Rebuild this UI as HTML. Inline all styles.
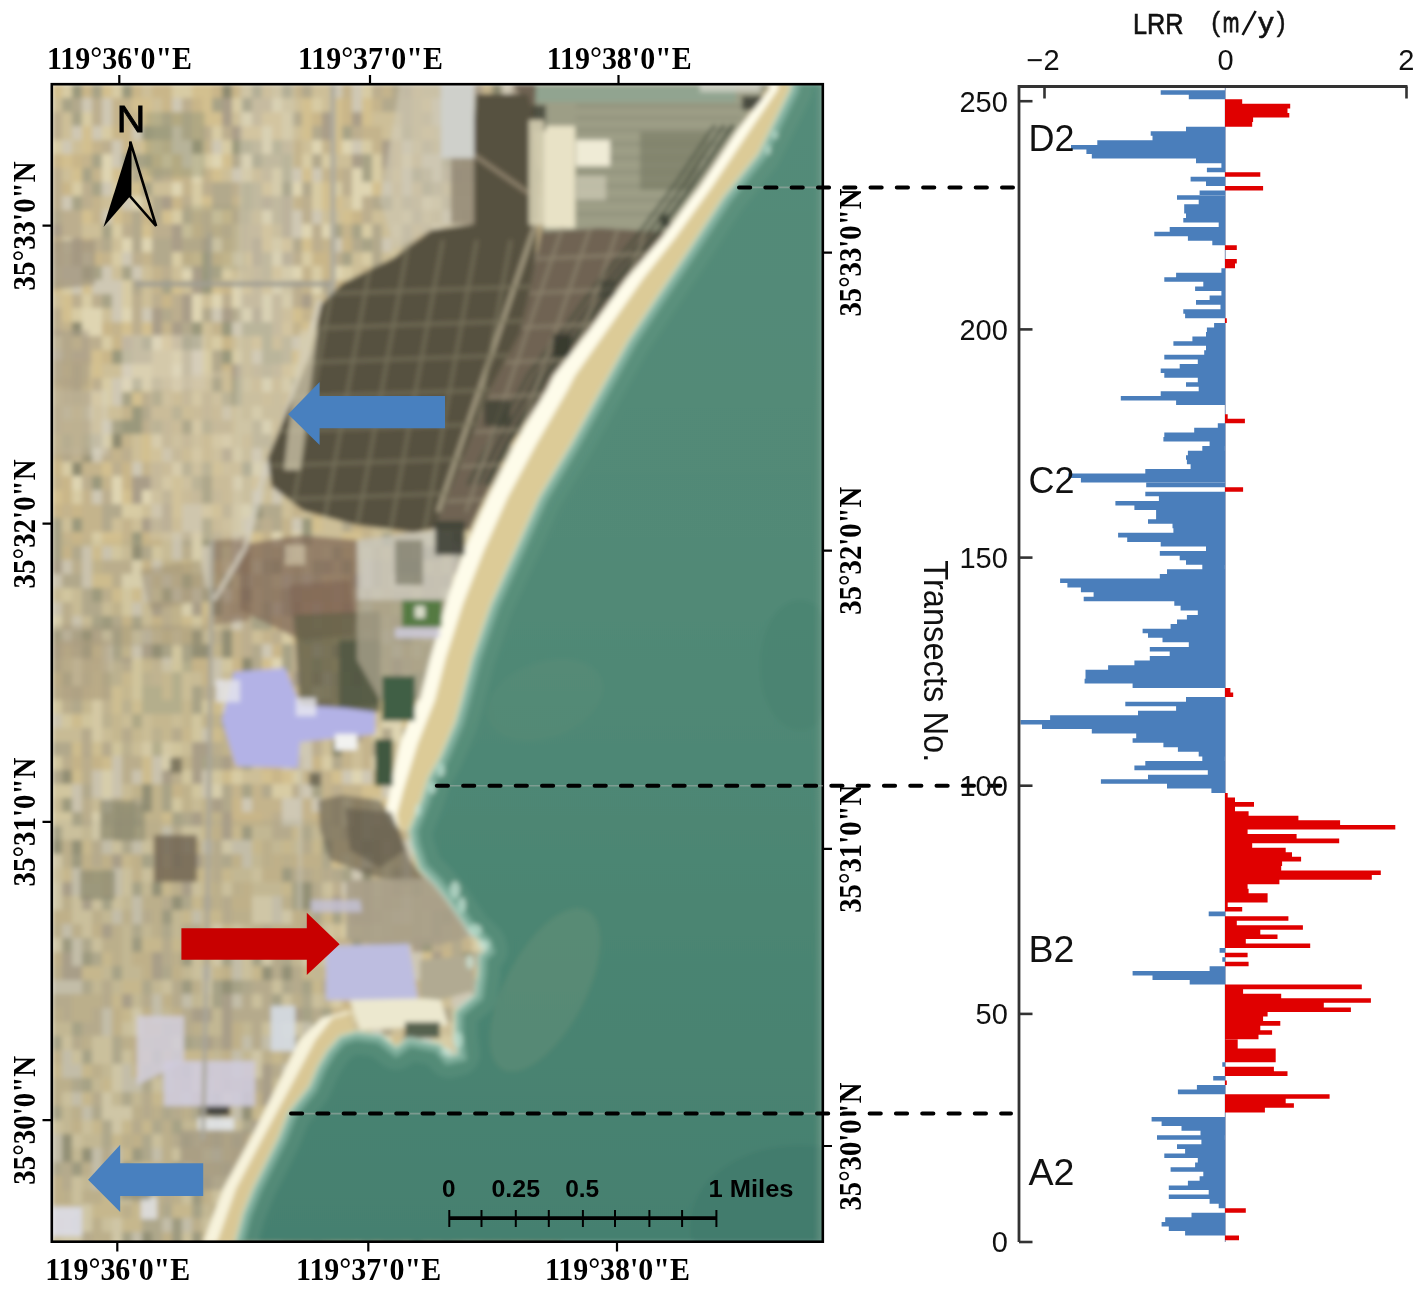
<!DOCTYPE html>
<html><head><meta charset="utf-8"><style>html,body{margin:0;padding:0;background:#fff;width:1417px;height:1292px;overflow:hidden}svg{display:block}</style></head>
<body><svg width="1417" height="1292" viewBox="0 0 1417 1292">
<rect width="1417" height="1292" fill="#fff"/>
<defs><clipPath id="mapclip"><rect x="52" y="84" width="771" height="1158"/></clipPath><linearGradient id="seagrad" x1="0" y1="0" x2="0" y2="1" gradientUnits="objectBoundingBox"><stop offset="0" stop-color="#538b79"/><stop offset="0.45" stop-color="#518976"/><stop offset="0.72" stop-color="#4b8572"/><stop offset="1" stop-color="#458070"/></linearGradient><filter id="soft" x="0" y="0" width="1" height="1"><feGaussianBlur stdDeviation="2.4"/></filter></defs><g clip-path="url(#mapclip)"><g filter="url(#soft)"><rect x="52" y="84" width="771" height="1158" fill="#c6b78f"/>
<path fill="#d3c08f" d="M52 84h10v14h-10zM102 84h10v14h-10zM192 84h10v14h-10zM202 84h10v14h-10zM132 98h10v28h-10zM142 98h10v14h-10zM202 98h10v14h-10zM302 98h10v14h-10zM332 98h10v14h-10zM362 98h10v14h-10zM422 98h10v14h-10zM442 98h10v14h-10zM512 98h10v14h-10zM142 112h10v14h-10zM202 112h10v28h-10zM212 112h10v28h-10zM262 112h10v14h-10zM272 112h10v28h-10zM302 112h10v28h-10zM332 112h10v28h-10zM342 112h10v14h-10zM362 112h10v14h-10zM482 112h10v14h-10zM512 112h10v14h-10zM532 112h10v14h-10zM52 126h10v14h-10zM82 126h10v14h-10zM192 126h10v28h-10zM242 126h10v14h-10zM252 126h10v28h-10zM272 126h10v14h-10zM282 126h10v14h-10zM302 126h10v28h-10zM332 126h10v28h-10zM422 126h10v28h-10zM442 126h10v28h-10zM472 126h10v14h-10zM82 140h10v14h-10zM142 140h10v28h-10zM332 140h10v28h-10zM522 140h10v14h-10zM62 154h10v28h-10zM222 154h10v14h-10zM292 154h10v28h-10zM442 154h10v14h-10zM522 154h10v14h-10zM72 168h10v14h-10zM112 168h10v14h-10zM142 168h10v14h-10zM172 168h10v14h-10zM212 168h10v28h-10zM302 168h10v14h-10zM372 168h10v14h-10zM392 168h10v14h-10zM542 168h10v14h-10zM132 182h10v28h-10zM262 182h10v14h-10zM272 182h10v14h-10zM322 182h10v14h-10zM372 182h10v14h-10zM512 182h10v14h-10zM202 196h10v28h-10zM242 196h10v28h-10zM322 196h10v14h-10zM332 196h10v14h-10zM82 210h10v28h-10zM112 210h10v28h-10zM162 210h10v14h-10zM222 210h10v14h-10zM252 210h10v14h-10zM342 210h10v14h-10zM392 210h10v14h-10zM512 210h10v28h-10zM542 210h10v14h-10zM132 224h10v14h-10zM142 224h10v14h-10zM262 224h10v14h-10zM282 224h10v14h-10zM442 224h10v14h-10zM262 238h10v28h-10zM282 238h10v28h-10zM302 238h10v14h-10zM492 238h10v14h-10zM552 238h10v14h-10zM152 252h10v28h-10zM192 252h10v14h-10zM222 252h10v14h-10zM242 252h10v28h-10zM402 252h10v28h-10zM272 266h10v14h-10zM322 266h10v14h-10zM452 266h10v14h-10zM52 280h10v14h-10zM82 280h10v28h-10zM172 280h10v14h-10zM202 280h10v14h-10zM212 280h10v28h-10zM242 280h10v14h-10zM262 280h10v28h-10zM412 280h10v14h-10zM462 280h10v14h-10zM512 280h10v28h-10zM542 280h10v14h-10zM62 294h10v14h-10zM122 294h10v14h-10zM342 294h10v28h-10zM372 294h10v14h-10zM462 294h10v28h-10zM62 308h10v14h-10zM112 308h10v28h-10zM262 308h10v28h-10zM292 308h10v28h-10zM352 308h10v14h-10zM412 308h10v28h-10zM462 308h10v14h-10zM482 308h10v14h-10zM522 308h10v14h-10zM122 322h10v28h-10zM142 322h10v28h-10zM282 322h10v14h-10zM302 322h10v28h-10zM412 322h10v14h-10zM432 322h10v28h-10zM462 322h10v28h-10zM482 322h10v14h-10zM502 322h10v14h-10zM72 336h10v14h-10zM162 336h10v14h-10zM192 336h10v14h-10zM202 336h10v14h-10zM252 336h10v28h-10zM262 336h10v28h-10zM402 336h10v14h-10zM412 336h10v28h-10zM92 350h10v14h-10zM132 350h10v14h-10zM292 350h10v14h-10zM352 350h10v14h-10zM372 350h10v28h-10zM402 350h10v14h-10zM542 350h10v14h-10zM552 350h10v28h-10zM62 364h10v14h-10zM92 364h10v14h-10zM192 364h10v14h-10zM282 364h10v14h-10zM312 364h10v28h-10zM342 364h10v28h-10zM352 364h10v28h-10zM442 364h10v14h-10zM452 364h10v14h-10zM492 364h10v14h-10zM502 364h10v14h-10zM82 378h10v28h-10zM142 378h10v14h-10zM222 378h10v14h-10zM472 378h10v14h-10zM532 378h10v14h-10zM92 392h10v14h-10zM132 392h10v28h-10zM372 392h10v14h-10zM492 392h10v14h-10zM522 392h10v28h-10zM552 392h10v14h-10zM72 406h10v14h-10zM292 406h10v14h-10zM312 406h10v28h-10zM382 406h10v28h-10zM392 406h10v14h-10zM292 420h10v28h-10zM482 420h10v14h-10zM52 434h10v14h-10zM72 434h10v14h-10zM142 434h10v14h-10zM352 434h10v14h-10zM482 434h10v14h-10zM492 434h10v14h-10zM512 434h10v14h-10zM142 448h10v14h-10zM152 448h10v14h-10zM202 448h10v14h-10zM322 448h10v28h-10zM102 462h10v28h-10zM212 462h10v28h-10zM302 462h10v14h-10zM372 462h10v14h-10zM392 462h10v14h-10zM402 462h10v14h-10zM412 462h10v14h-10zM442 462h10v28h-10zM482 462h10v14h-10zM502 462h10v28h-10zM152 476h10v14h-10zM172 476h10v28h-10zM252 476h10v14h-10zM492 476h10v28h-10zM532 476h10v14h-10zM52 490h10v28h-10zM122 490h10v14h-10zM172 490h10v14h-10zM242 490h10v14h-10zM302 490h10v14h-10zM352 490h10v14h-10zM382 490h10v14h-10zM402 490h10v14h-10zM462 490h10v14h-10zM472 490h10v14h-10zM172 504h10v14h-10zM212 504h10v14h-10zM312 504h10v14h-10zM412 504h10v14h-10zM422 504h10v28h-10zM462 504h10v14h-10zM482 504h10v28h-10zM532 504h10v28h-10zM232 518h10v14h-10zM312 518h10v14h-10zM422 518h10v14h-10zM512 518h10v28h-10zM102 532h10v14h-10zM112 532h10v14h-10zM252 532h10v14h-10zM282 532h10v14h-10zM342 532h10v14h-10zM352 532h10v28h-10zM92 546h10v28h-10zM192 546h10v14h-10zM212 546h10v14h-10zM252 546h10v14h-10zM352 546h10v14h-10zM382 546h10v14h-10zM442 546h10v14h-10zM182 560h10v14h-10zM402 560h10v14h-10zM512 560h10v14h-10zM92 574h10v28h-10zM102 574h10v14h-10zM212 574h10v28h-10zM322 574h10v28h-10zM522 574h10v28h-10zM552 574h10v14h-10zM112 588h10v28h-10zM132 588h10v28h-10zM432 588h10v28h-10zM472 588h10v28h-10zM512 588h10v28h-10zM542 588h10v14h-10zM72 602h10v14h-10zM82 602h10v28h-10zM122 602h10v28h-10zM202 602h10v14h-10zM212 602h10v14h-10zM302 602h10v28h-10zM332 602h10v14h-10zM392 602h10v14h-10zM472 602h10v14h-10zM502 602h10v14h-10zM512 602h10v14h-10zM552 602h10v14h-10zM162 616h10v14h-10zM182 616h10v14h-10zM222 616h10v14h-10zM272 616h10v28h-10zM332 616h10v14h-10zM432 616h10v14h-10zM442 616h10v28h-10zM532 616h10v28h-10zM302 630h10v14h-10zM332 630h10v14h-10zM412 630h10v28h-10zM522 630h10v14h-10zM92 644h10v14h-10zM172 658h10v28h-10zM232 658h10v28h-10zM252 658h10v28h-10zM262 658h10v28h-10zM282 658h10v28h-10zM332 658h10v28h-10zM432 658h10v28h-10zM52 672h10v14h-10zM92 672h10v14h-10zM262 672h10v14h-10zM382 672h10v14h-10zM532 672h10v14h-10zM92 686h10v14h-10zM112 686h10v14h-10zM132 686h10v14h-10zM252 686h10v14h-10zM342 686h10v14h-10zM352 686h10v14h-10zM422 686h10v28h-10zM472 686h10v14h-10zM542 686h10v14h-10zM112 700h10v14h-10zM132 700h10v28h-10zM142 700h10v28h-10zM212 700h10v14h-10zM332 700h10v14h-10zM342 700h10v14h-10zM362 700h10v14h-10zM372 700h10v28h-10zM482 700h10v14h-10zM512 700h10v14h-10zM552 700h10v14h-10zM72 714h10v14h-10zM82 714h10v14h-10zM182 714h10v28h-10zM192 714h10v14h-10zM402 714h10v28h-10zM512 714h10v14h-10zM542 714h10v14h-10zM112 728h10v14h-10zM212 728h10v28h-10zM252 728h10v14h-10zM262 728h10v14h-10zM272 728h10v28h-10zM412 728h10v14h-10zM442 728h10v14h-10zM72 742h10v28h-10zM92 742h10v14h-10zM272 742h10v28h-10zM292 742h10v14h-10zM462 742h10v14h-10zM532 742h10v28h-10zM102 756h10v14h-10zM142 756h10v28h-10zM402 756h10v28h-10zM462 756h10v28h-10zM72 770h10v14h-10zM82 770h10v14h-10zM142 770h10v14h-10zM222 770h10v28h-10zM262 770h10v14h-10zM272 770h10v14h-10zM282 770h10v28h-10zM332 770h10v14h-10zM412 770h10v28h-10zM452 770h10v28h-10zM462 770h10v14h-10zM362 784h10v14h-10zM372 784h10v28h-10zM452 784h10v14h-10zM462 784h10v14h-10zM492 784h10v14h-10zM122 798h10v28h-10zM172 798h10v14h-10zM382 798h10v28h-10zM422 798h10v28h-10zM462 798h10v28h-10zM542 798h10v14h-10zM162 812h10v14h-10zM232 812h10v14h-10zM402 812h10v14h-10zM432 812h10v28h-10zM452 812h10v14h-10zM502 812h10v14h-10zM512 812h10v14h-10zM82 826h10v28h-10zM142 826h10v28h-10zM202 826h10v14h-10zM222 826h10v14h-10zM232 826h10v14h-10zM292 826h10v14h-10zM322 826h10v14h-10zM392 826h10v14h-10zM522 826h10v14h-10zM552 826h10v28h-10zM82 840h10v14h-10zM252 840h10v28h-10zM282 840h10v14h-10zM312 840h10v14h-10zM332 840h10v14h-10zM342 840h10v28h-10zM532 840h10v14h-10zM122 854h10v14h-10zM332 854h10v28h-10zM352 854h10v14h-10zM392 854h10v14h-10zM452 854h10v14h-10zM62 868h10v28h-10zM92 868h10v28h-10zM162 868h10v14h-10zM192 868h10v14h-10zM202 868h10v14h-10zM222 868h10v14h-10zM382 868h10v14h-10zM412 868h10v14h-10zM452 868h10v14h-10zM462 868h10v28h-10zM162 882h10v14h-10zM202 882h10v28h-10zM282 882h10v14h-10zM432 882h10v14h-10zM442 882h10v14h-10zM462 882h10v28h-10zM482 882h10v14h-10zM552 882h10v14h-10zM192 896h10v14h-10zM212 896h10v14h-10zM242 896h10v14h-10zM312 896h10v14h-10zM442 896h10v14h-10zM472 896h10v28h-10zM552 896h10v14h-10zM182 910h10v14h-10zM202 910h10v28h-10zM212 910h10v28h-10zM322 910h10v28h-10zM512 910h10v14h-10zM172 924h10v14h-10zM202 924h10v14h-10zM222 924h10v14h-10zM272 924h10v14h-10zM292 924h10v14h-10zM352 924h10v28h-10zM412 924h10v14h-10zM472 924h10v28h-10zM482 924h10v14h-10zM522 924h10v28h-10zM142 938h10v28h-10zM152 938h10v28h-10zM172 938h10v28h-10zM202 938h10v14h-10zM242 938h10v14h-10zM362 938h10v14h-10zM372 938h10v14h-10zM102 952h10v28h-10zM202 952h10v14h-10zM342 952h10v14h-10zM372 952h10v28h-10zM422 952h10v14h-10zM452 952h10v14h-10zM62 966h10v14h-10zM82 966h10v28h-10zM92 966h10v14h-10zM142 966h10v14h-10zM212 966h10v14h-10zM232 966h10v14h-10zM242 966h10v28h-10zM252 966h10v14h-10zM302 966h10v14h-10zM322 966h10v14h-10zM352 966h10v14h-10zM372 966h10v28h-10zM402 966h10v14h-10zM522 966h10v28h-10zM122 980h10v28h-10zM132 980h10v14h-10zM312 980h10v28h-10zM362 980h10v14h-10zM442 980h10v14h-10zM452 980h10v14h-10zM482 980h10v14h-10zM542 980h10v28h-10zM112 994h10v14h-10zM262 994h10v14h-10zM332 994h10v14h-10zM352 994h10v14h-10zM392 994h10v14h-10zM422 994h10v14h-10zM512 994h10v14h-10zM122 1008h10v28h-10zM342 1008h10v14h-10zM422 1008h10v14h-10zM452 1008h10v14h-10zM462 1008h10v14h-10zM72 1022h10v14h-10zM132 1022h10v28h-10zM342 1022h10v14h-10zM382 1022h10v28h-10zM512 1022h10v14h-10zM392 1036h10v28h-10zM512 1036h10v14h-10zM522 1036h10v28h-10zM92 1050h10v14h-10zM142 1050h10v14h-10zM182 1050h10v14h-10zM192 1050h10v14h-10zM202 1050h10v14h-10zM272 1050h10v28h-10zM332 1050h10v14h-10zM372 1050h10v14h-10zM432 1050h10v14h-10zM452 1050h10v28h-10zM482 1050h10v14h-10zM512 1050h10v14h-10zM52 1064h10v14h-10zM82 1064h10v14h-10zM132 1064h10v14h-10zM242 1064h10v14h-10zM252 1064h10v14h-10zM412 1064h10v28h-10zM492 1064h10v14h-10zM532 1064h10v14h-10zM102 1078h10v14h-10zM212 1078h10v14h-10zM232 1078h10v14h-10zM312 1078h10v28h-10zM372 1078h10v14h-10zM82 1092h10v14h-10zM152 1092h10v14h-10zM202 1092h10v14h-10zM452 1092h10v14h-10zM472 1092h10v14h-10zM222 1106h10v28h-10zM252 1106h10v14h-10zM262 1106h10v14h-10zM292 1106h10v14h-10zM362 1106h10v14h-10zM402 1106h10v28h-10zM62 1120h10v14h-10zM92 1120h10v14h-10zM122 1120h10v14h-10zM142 1120h10v14h-10zM202 1120h10v14h-10zM312 1120h10v28h-10zM342 1120h10v28h-10zM382 1120h10v14h-10zM432 1120h10v14h-10zM512 1120h10v14h-10zM532 1120h10v14h-10zM552 1120h10v14h-10zM112 1134h10v14h-10zM222 1134h10v14h-10zM252 1134h10v28h-10zM352 1134h10v14h-10zM402 1134h10v28h-10zM482 1134h10v28h-10zM542 1134h10v28h-10zM122 1148h10v14h-10zM192 1148h10v14h-10zM222 1148h10v28h-10zM282 1148h10v14h-10zM312 1148h10v14h-10zM352 1148h10v14h-10zM442 1148h10v14h-10zM472 1148h10v14h-10zM522 1148h10v14h-10zM542 1148h10v28h-10zM552 1148h10v14h-10zM52 1162h10v14h-10zM142 1162h10v14h-10zM162 1162h10v28h-10zM192 1162h10v14h-10zM232 1162h10v14h-10zM262 1162h10v14h-10zM332 1162h10v28h-10zM462 1162h10v14h-10zM472 1162h10v28h-10zM532 1162h10v28h-10zM542 1162h10v14h-10zM122 1176h10v14h-10zM352 1176h10v14h-10zM462 1176h10v14h-10zM552 1176h10v28h-10zM72 1190h10v14h-10zM102 1190h10v28h-10zM302 1190h10v14h-10zM332 1190h10v14h-10zM482 1190h10v14h-10zM62 1204h10v14h-10zM92 1204h10v14h-10zM102 1204h10v14h-10zM112 1204h10v14h-10zM132 1204h10v28h-10zM172 1204h10v14h-10zM182 1204h10v14h-10zM222 1204h10v28h-10zM252 1204h10v14h-10zM282 1204h10v14h-10zM362 1204h10v28h-10zM472 1204h10v28h-10zM62 1218h10v28h-10zM122 1218h10v28h-10zM132 1218h10v14h-10zM222 1218h10v14h-10zM242 1218h10v28h-10zM252 1218h10v28h-10zM302 1218h10v28h-10zM362 1218h10v28h-10zM512 1218h10v14h-10zM542 1218h10v14h-10zM202 1232h10v28h-10zM242 1232h10v14h-10zM342 1232h10v14h-10zM372 1232h10v28h-10zM392 1232h10v14h-10zM472 1232h10v14h-10z"/>
<path fill="#d8cca4" d="M62 84h10v14h-10zM112 84h10v14h-10zM172 84h10v14h-10zM182 84h10v28h-10zM362 84h10v14h-10zM452 84h10v28h-10zM542 84h10v14h-10zM232 98h10v14h-10zM312 98h10v14h-10zM82 112h10v14h-10zM282 112h10v28h-10zM432 112h10v28h-10zM492 112h10v14h-10zM62 126h10v28h-10zM102 126h10v14h-10zM212 126h10v14h-10zM392 126h10v14h-10zM532 126h10v14h-10zM552 126h10v14h-10zM52 140h10v14h-10zM122 140h10v14h-10zM222 140h10v14h-10zM362 140h10v14h-10zM452 140h10v14h-10zM512 140h10v14h-10zM542 140h10v14h-10zM112 154h10v14h-10zM162 154h10v28h-10zM202 154h10v14h-10zM302 154h10v14h-10zM322 154h10v14h-10zM372 154h10v28h-10zM392 154h10v14h-10zM452 154h10v14h-10zM532 154h10v28h-10zM542 154h10v14h-10zM242 168h10v14h-10zM272 168h10v28h-10zM282 168h10v14h-10zM72 182h10v14h-10zM112 182h10v14h-10zM192 182h10v28h-10zM312 182h10v14h-10zM332 182h10v14h-10zM472 182h10v14h-10zM492 182h10v14h-10zM542 182h10v14h-10zM192 196h10v14h-10zM212 196h10v14h-10zM312 196h10v14h-10zM432 196h10v28h-10zM452 196h10v14h-10zM462 196h10v14h-10zM542 196h10v28h-10zM172 210h10v14h-10zM212 210h10v28h-10zM362 210h10v14h-10zM402 210h10v14h-10zM452 210h10v14h-10zM472 210h10v14h-10zM532 210h10v14h-10zM62 224h10v28h-10zM92 224h10v14h-10zM112 224h10v14h-10zM182 224h10v14h-10zM292 224h10v14h-10zM362 224h10v14h-10zM392 224h10v14h-10zM172 238h10v14h-10zM272 238h10v14h-10zM402 238h10v14h-10zM62 252h10v14h-10zM112 252h10v28h-10zM172 252h10v14h-10zM302 252h10v28h-10zM362 252h10v14h-10zM392 252h10v14h-10zM502 252h10v28h-10zM52 266h10v14h-10zM222 266h10v14h-10zM262 266h10v14h-10zM282 266h10v14h-10zM312 266h10v28h-10zM342 266h10v14h-10zM352 266h10v28h-10zM382 266h10v28h-10zM412 266h10v14h-10zM502 266h10v28h-10zM542 266h10v14h-10zM552 266h10v28h-10zM62 280h10v14h-10zM102 280h10v14h-10zM122 280h10v28h-10zM82 294h10v14h-10zM282 294h10v14h-10zM482 294h10v14h-10zM502 294h10v14h-10zM72 308h10v14h-10zM312 308h10v14h-10zM532 308h10v14h-10zM322 322h10v14h-10zM362 322h10v14h-10zM472 322h10v14h-10zM532 322h10v14h-10zM52 336h10v28h-10zM102 336h10v14h-10zM212 336h10v14h-10zM302 336h10v28h-10zM312 336h10v28h-10zM502 336h10v28h-10zM82 350h10v14h-10zM172 350h10v14h-10zM202 350h10v14h-10zM232 350h10v28h-10zM382 350h10v14h-10zM492 350h10v14h-10zM522 350h10v14h-10zM132 364h10v28h-10zM142 364h10v28h-10zM152 364h10v28h-10zM202 364h10v14h-10zM292 364h10v28h-10zM422 364h10v14h-10zM472 364h10v14h-10zM102 378h10v28h-10zM282 378h10v14h-10zM302 378h10v14h-10zM402 378h10v14h-10zM422 378h10v28h-10zM462 378h10v14h-10zM492 378h10v14h-10zM552 378h10v14h-10zM102 392h10v28h-10zM192 392h10v14h-10zM232 392h10v14h-10zM402 392h10v14h-10zM442 392h10v14h-10zM462 392h10v14h-10zM472 392h10v14h-10zM242 406h10v14h-10zM252 406h10v14h-10zM272 406h10v14h-10zM502 406h10v14h-10zM92 420h10v28h-10zM192 420h10v14h-10zM312 420h10v14h-10zM402 420h10v14h-10zM452 420h10v14h-10zM102 434h10v14h-10zM212 434h10v28h-10zM292 434h10v28h-10zM412 434h10v14h-10zM192 448h10v14h-10zM232 448h10v28h-10zM362 448h10v28h-10zM432 448h10v14h-10zM462 448h10v14h-10zM532 448h10v14h-10zM552 448h10v14h-10zM62 462h10v14h-10zM272 462h10v14h-10zM332 462h10v28h-10zM452 462h10v14h-10zM532 462h10v14h-10zM162 476h10v28h-10zM282 476h10v14h-10zM382 476h10v14h-10zM442 476h10v14h-10zM462 476h10v28h-10zM502 476h10v14h-10zM72 490h10v14h-10zM432 490h10v14h-10zM122 504h10v14h-10zM132 504h10v14h-10zM202 504h10v28h-10zM232 504h10v28h-10zM322 504h10v14h-10zM472 504h10v28h-10zM272 518h10v28h-10zM382 518h10v14h-10zM402 518h10v14h-10zM442 518h10v14h-10zM452 518h10v14h-10zM472 518h10v28h-10zM552 518h10v28h-10zM92 532h10v14h-10zM242 532h10v14h-10zM302 532h10v14h-10zM422 532h10v28h-10zM432 532h10v14h-10zM462 532h10v28h-10zM502 532h10v28h-10zM112 546h10v14h-10zM152 546h10v14h-10zM222 546h10v14h-10zM302 546h10v28h-10zM322 546h10v28h-10zM362 546h10v28h-10zM462 546h10v28h-10zM502 546h10v28h-10zM512 546h10v14h-10zM192 560h10v28h-10zM202 560h10v28h-10zM302 560h10v14h-10zM482 560h10v28h-10zM272 574h10v14h-10zM362 574h10v14h-10zM402 574h10v28h-10zM452 574h10v14h-10zM472 574h10v14h-10zM492 574h10v14h-10zM532 574h10v14h-10zM542 574h10v14h-10zM62 588h10v14h-10zM122 588h10v28h-10zM152 588h10v14h-10zM332 588h10v14h-10zM352 588h10v28h-10zM442 588h10v14h-10zM282 602h10v14h-10zM382 602h10v14h-10zM402 602h10v14h-10zM492 602h10v14h-10zM192 616h10v14h-10zM312 616h10v28h-10zM322 616h10v28h-10zM402 616h10v28h-10zM462 616h10v14h-10zM492 616h10v28h-10zM202 630h10v28h-10zM282 630h10v28h-10zM532 630h10v14h-10zM112 644h10v14h-10zM172 644h10v28h-10zM192 644h10v14h-10zM242 644h10v28h-10zM412 644h10v14h-10zM442 644h10v14h-10zM132 658h10v14h-10zM182 658h10v14h-10zM222 658h10v28h-10zM382 658h10v14h-10zM132 672h10v28h-10zM212 672h10v14h-10zM302 672h10v28h-10zM402 672h10v28h-10zM462 672h10v28h-10zM482 672h10v28h-10zM172 686h10v14h-10zM222 686h10v14h-10zM242 686h10v14h-10zM262 686h10v14h-10zM282 686h10v14h-10zM322 686h10v28h-10zM412 686h10v28h-10zM52 700h10v28h-10zM82 700h10v28h-10zM192 700h10v28h-10zM202 700h10v14h-10zM242 700h10v14h-10zM282 700h10v28h-10zM422 700h10v28h-10zM432 700h10v14h-10zM492 700h10v28h-10zM502 700h10v28h-10zM532 700h10v28h-10zM62 714h10v28h-10zM302 714h10v14h-10zM362 714h10v14h-10zM432 714h10v14h-10zM162 728h10v14h-10zM192 728h10v14h-10zM292 728h10v28h-10zM342 728h10v14h-10zM372 728h10v14h-10zM482 728h10v14h-10zM112 742h10v28h-10zM172 742h10v14h-10zM282 742h10v14h-10zM322 742h10v14h-10zM472 742h10v14h-10zM52 756h10v28h-10zM312 756h10v14h-10zM322 756h10v28h-10zM352 756h10v28h-10zM182 770h10v14h-10zM212 770h10v14h-10zM232 770h10v14h-10zM292 770h10v14h-10zM432 770h10v14h-10zM442 770h10v14h-10zM52 784h10v14h-10zM62 784h10v14h-10zM122 784h10v14h-10zM172 784h10v28h-10zM192 784h10v14h-10zM272 784h10v14h-10zM282 784h10v14h-10zM412 784h10v14h-10zM422 784h10v14h-10zM472 784h10v28h-10zM222 798h10v14h-10zM252 798h10v14h-10zM442 798h10v14h-10zM482 798h10v14h-10zM552 798h10v14h-10zM52 812h10v28h-10zM62 812h10v14h-10zM262 812h10v14h-10zM472 812h10v14h-10zM482 812h10v14h-10zM62 826h10v14h-10zM72 826h10v14h-10zM182 826h10v28h-10zM192 826h10v14h-10zM412 826h10v28h-10zM472 826h10v14h-10zM542 826h10v28h-10zM112 840h10v14h-10zM142 840h10v14h-10zM412 840h10v14h-10zM422 840h10v14h-10zM512 840h10v14h-10zM552 840h10v28h-10zM62 854h10v14h-10zM342 854h10v14h-10zM382 854h10v28h-10zM52 868h10v28h-10zM122 868h10v28h-10zM132 868h10v14h-10zM142 868h10v14h-10zM252 868h10v14h-10zM272 868h10v14h-10zM502 868h10v14h-10zM112 882h10v14h-10zM122 882h10v14h-10zM192 882h10v14h-10zM222 882h10v28h-10zM322 882h10v28h-10zM372 882h10v14h-10zM502 882h10v14h-10zM532 882h10v28h-10zM72 896h10v14h-10zM92 896h10v28h-10zM112 896h10v14h-10zM172 896h10v28h-10zM352 896h10v28h-10zM542 896h10v14h-10zM52 910h10v14h-10zM72 910h10v28h-10zM82 910h10v28h-10zM152 910h10v14h-10zM222 910h10v14h-10zM462 910h10v28h-10zM82 924h10v14h-10zM232 924h10v14h-10zM322 924h10v28h-10zM342 924h10v14h-10zM372 924h10v14h-10zM512 924h10v28h-10zM92 938h10v14h-10zM192 938h10v14h-10zM212 938h10v14h-10zM402 938h10v14h-10zM472 938h10v28h-10zM532 938h10v14h-10zM192 952h10v28h-10zM242 952h10v28h-10zM312 952h10v14h-10zM332 952h10v14h-10zM402 952h10v14h-10zM552 952h10v14h-10zM192 966h10v14h-10zM542 966h10v28h-10zM162 980h10v14h-10zM272 980h10v14h-10zM332 980h10v28h-10zM202 994h10v14h-10zM212 994h10v14h-10zM252 994h10v28h-10zM282 994h10v28h-10zM312 994h10v14h-10zM382 994h10v14h-10zM432 994h10v14h-10zM352 1008h10v14h-10zM512 1008h10v14h-10zM532 1008h10v14h-10zM552 1008h10v14h-10zM112 1022h10v14h-10zM122 1022h10v14h-10zM262 1022h10v14h-10zM282 1022h10v14h-10zM432 1022h10v14h-10zM452 1022h10v28h-10zM462 1022h10v14h-10zM472 1022h10v14h-10zM552 1022h10v14h-10zM62 1036h10v14h-10zM92 1036h10v28h-10zM102 1036h10v14h-10zM172 1036h10v14h-10zM272 1036h10v14h-10zM432 1036h10v28h-10zM442 1036h10v14h-10zM72 1050h10v28h-10zM102 1050h10v14h-10zM122 1050h10v14h-10zM132 1050h10v14h-10zM222 1050h10v28h-10zM362 1050h10v14h-10zM462 1050h10v14h-10zM62 1064h10v28h-10zM212 1064h10v14h-10zM332 1064h10v14h-10zM342 1064h10v14h-10zM382 1064h10v14h-10zM482 1064h10v14h-10zM152 1078h10v14h-10zM162 1078h10v14h-10zM482 1078h10v14h-10zM492 1078h10v14h-10zM552 1078h10v14h-10zM62 1092h10v14h-10zM272 1092h10v28h-10zM312 1092h10v28h-10zM332 1092h10v14h-10zM412 1092h10v14h-10zM492 1092h10v28h-10zM542 1092h10v14h-10zM392 1106h10v14h-10zM412 1106h10v14h-10zM422 1106h10v14h-10zM462 1106h10v14h-10zM482 1106h10v14h-10zM512 1106h10v14h-10zM552 1106h10v14h-10zM52 1120h10v14h-10zM82 1120h10v28h-10zM222 1120h10v14h-10zM232 1120h10v14h-10zM502 1120h10v14h-10zM72 1134h10v14h-10zM152 1134h10v28h-10zM282 1134h10v14h-10zM332 1134h10v14h-10zM492 1134h10v28h-10zM172 1148h10v14h-10zM202 1148h10v14h-10zM362 1148h10v14h-10zM452 1148h10v14h-10zM512 1148h10v28h-10zM532 1148h10v14h-10zM312 1162h10v14h-10zM342 1162h10v28h-10zM392 1162h10v14h-10zM502 1162h10v28h-10zM512 1162h10v28h-10zM72 1176h10v28h-10zM112 1176h10v28h-10zM212 1176h10v14h-10zM222 1176h10v14h-10zM332 1176h10v28h-10zM402 1176h10v14h-10zM112 1190h10v14h-10zM122 1190h10v14h-10zM182 1190h10v14h-10zM212 1190h10v14h-10zM242 1190h10v28h-10zM252 1190h10v14h-10zM272 1190h10v14h-10zM422 1190h10v14h-10zM532 1190h10v28h-10zM552 1190h10v14h-10zM442 1204h10v14h-10zM522 1204h10v14h-10zM102 1218h10v28h-10zM202 1218h10v14h-10zM212 1218h10v28h-10zM402 1218h10v28h-10zM52 1232h10v14h-10zM182 1232h10v14h-10zM232 1232h10v14h-10zM332 1232h10v14h-10z"/>
<path fill="#9a987c" d="M72 84h10v14h-10zM122 84h10v14h-10zM252 84h10v14h-10zM282 84h10v14h-10zM472 98h10v14h-10zM142 126h10v14h-10zM382 126h10v14h-10zM502 126h10v14h-10zM232 140h10v28h-10zM442 140h10v28h-10zM252 154h10v14h-10zM512 154h10v28h-10zM362 168h10v14h-10zM412 168h10v14h-10zM532 168h10v14h-10zM422 182h10v14h-10zM382 196h10v14h-10zM502 238h10v14h-10zM202 252h10v14h-10zM372 252h10v14h-10zM412 252h10v14h-10zM202 266h10v28h-10zM372 266h10v14h-10zM352 294h10v14h-10zM392 308h10v28h-10zM422 308h10v14h-10zM192 322h10v28h-10zM222 322h10v14h-10zM332 322h10v14h-10zM342 322h10v28h-10zM142 336h10v28h-10zM112 350h10v14h-10zM222 350h10v14h-10zM502 378h10v14h-10zM152 392h10v28h-10zM532 392h10v14h-10zM132 406h10v14h-10zM402 406h10v14h-10zM122 420h10v14h-10zM132 420h10v28h-10zM462 420h10v14h-10zM512 420h10v14h-10zM392 434h10v14h-10zM242 462h10v14h-10zM92 476h10v14h-10zM552 476h10v14h-10zM72 518h10v14h-10zM202 518h10v28h-10zM302 518h10v28h-10zM132 532h10v14h-10zM202 532h10v14h-10zM422 546h10v14h-10zM432 546h10v14h-10zM272 560h10v14h-10zM342 560h10v14h-10zM182 574h10v14h-10zM92 588h10v28h-10zM162 588h10v14h-10zM242 588h10v28h-10zM502 588h10v28h-10zM462 602h10v14h-10zM102 616h10v14h-10zM172 616h10v28h-10zM402 630h10v14h-10zM72 644h10v14h-10zM332 644h10v14h-10zM342 644h10v14h-10zM312 672h10v28h-10zM232 700h10v14h-10zM132 714h10v14h-10zM222 714h10v14h-10zM442 714h10v28h-10zM512 784h10v14h-10zM62 798h10v14h-10zM492 798h10v28h-10zM242 826h10v14h-10zM152 840h10v14h-10zM322 840h10v28h-10zM72 854h10v28h-10zM82 868h10v14h-10zM282 868h10v14h-10zM412 882h10v28h-10zM382 896h10v14h-10zM452 896h10v14h-10zM162 910h10v14h-10zM442 910h10v14h-10zM62 938h10v14h-10zM132 938h10v28h-10zM272 938h10v14h-10zM352 938h10v14h-10zM422 938h10v14h-10zM512 938h10v14h-10zM82 952h10v14h-10zM182 952h10v14h-10zM462 952h10v14h-10zM382 966h10v14h-10zM432 966h10v14h-10zM512 966h10v14h-10zM182 980h10v14h-10zM472 980h10v14h-10zM182 1022h10v14h-10zM412 1036h10v14h-10zM112 1050h10v14h-10zM152 1050h10v28h-10zM422 1050h10v14h-10zM552 1050h10v28h-10zM352 1064h10v14h-10zM552 1064h10v14h-10zM142 1078h10v14h-10zM512 1092h10v14h-10zM302 1106h10v14h-10zM342 1106h10v14h-10zM362 1134h10v28h-10zM132 1148h10v28h-10zM252 1148h10v14h-10zM302 1148h10v28h-10zM72 1162h10v14h-10zM122 1162h10v14h-10zM172 1162h10v28h-10zM442 1162h10v14h-10zM182 1176h10v14h-10zM192 1190h10v14h-10zM362 1190h10v28h-10zM492 1190h10v28h-10zM172 1218h10v28h-10zM272 1218h10v14h-10zM172 1232h10v14h-10zM192 1232h10v28h-10z"/>
<path fill="#c9b689" d="M82 84h10v14h-10zM132 84h10v14h-10zM152 84h10v14h-10zM162 84h10v28h-10zM212 84h10v14h-10zM232 84h10v14h-10zM262 84h10v28h-10zM412 84h10v14h-10zM442 84h10v14h-10zM532 84h10v14h-10zM162 98h10v14h-10zM192 98h10v14h-10zM322 98h10v14h-10zM342 98h10v28h-10zM172 112h10v14h-10zM312 112h10v14h-10zM92 126h10v14h-10zM112 126h10v14h-10zM122 126h10v28h-10zM512 126h10v28h-10zM392 140h10v28h-10zM532 140h10v14h-10zM52 154h10v14h-10zM72 154h10v14h-10zM152 154h10v28h-10zM172 154h10v28h-10zM412 154h10v14h-10zM252 168h10v14h-10zM552 168h10v14h-10zM62 182h10v14h-10zM122 182h10v14h-10zM392 182h10v14h-10zM412 182h10v14h-10zM172 196h10v14h-10zM492 196h10v28h-10zM522 196h10v14h-10zM142 210h10v14h-10zM302 210h10v14h-10zM352 210h10v14h-10zM462 210h10v14h-10zM192 224h10v14h-10zM412 224h10v14h-10zM462 224h10v14h-10zM532 224h10v14h-10zM52 238h10v14h-10zM82 238h10v14h-10zM342 238h10v14h-10zM482 238h10v14h-10zM92 252h10v28h-10zM162 252h10v14h-10zM182 252h10v14h-10zM212 252h10v14h-10zM312 252h10v14h-10zM322 252h10v28h-10zM462 252h10v14h-10zM522 266h10v28h-10zM152 280h10v28h-10zM222 280h10v14h-10zM332 280h10v14h-10zM342 280h10v28h-10zM162 294h10v28h-10zM472 294h10v28h-10zM282 308h10v14h-10zM342 308h10v14h-10zM402 308h10v14h-10zM492 308h10v14h-10zM552 308h10v14h-10zM102 322h10v14h-10zM402 322h10v28h-10zM422 322h10v14h-10zM512 322h10v28h-10zM552 322h10v14h-10zM112 336h10v14h-10zM222 336h10v14h-10zM272 336h10v14h-10zM352 336h10v14h-10zM382 336h10v14h-10zM452 336h10v28h-10zM482 336h10v28h-10zM492 336h10v14h-10zM512 336h10v28h-10zM522 336h10v28h-10zM102 350h10v28h-10zM242 350h10v14h-10zM312 350h10v14h-10zM412 350h10v14h-10zM422 350h10v14h-10zM452 350h10v28h-10zM502 350h10v14h-10zM52 364h10v14h-10zM222 364h10v28h-10zM542 364h10v28h-10zM182 378h10v14h-10zM252 378h10v14h-10zM272 378h10v28h-10zM62 392h10v14h-10zM172 392h10v14h-10zM212 392h10v14h-10zM262 392h10v28h-10zM282 392h10v28h-10zM502 392h10v14h-10zM92 406h10v28h-10zM182 406h10v14h-10zM342 406h10v14h-10zM422 406h10v14h-10zM442 406h10v28h-10zM552 406h10v14h-10zM62 420h10v14h-10zM232 420h10v14h-10zM272 420h10v28h-10zM412 420h10v14h-10zM422 420h10v14h-10zM542 420h10v28h-10zM552 420h10v14h-10zM162 434h10v14h-10zM202 434h10v28h-10zM242 434h10v14h-10zM272 434h10v14h-10zM312 434h10v14h-10zM52 448h10v14h-10zM182 448h10v14h-10zM412 448h10v14h-10zM522 448h10v14h-10zM52 462h10v28h-10zM122 462h10v28h-10zM232 462h10v14h-10zM62 476h10v28h-10zM122 476h10v14h-10zM412 476h10v14h-10zM512 476h10v14h-10zM522 476h10v14h-10zM62 490h10v28h-10zM312 490h10v28h-10zM442 490h10v14h-10zM52 504h10v14h-10zM72 504h10v14h-10zM112 504h10v14h-10zM282 504h10v14h-10zM372 504h10v14h-10zM402 504h10v28h-10zM452 504h10v14h-10zM172 518h10v28h-10zM352 518h10v14h-10zM392 518h10v28h-10zM412 518h10v28h-10zM532 518h10v28h-10zM52 532h10v28h-10zM72 532h10v14h-10zM142 532h10v14h-10zM152 532h10v14h-10zM332 532h10v14h-10zM62 546h10v14h-10zM342 546h10v14h-10zM142 560h10v14h-10zM212 560h10v14h-10zM242 560h10v14h-10zM352 560h10v14h-10zM342 574h10v28h-10zM412 574h10v14h-10zM292 588h10v14h-10zM312 588h10v14h-10zM342 588h10v14h-10zM382 588h10v28h-10zM462 588h10v14h-10zM322 602h10v28h-10zM372 602h10v14h-10zM452 602h10v28h-10zM122 616h10v14h-10zM152 616h10v14h-10zM202 616h10v14h-10zM262 616h10v14h-10zM292 616h10v14h-10zM122 630h10v14h-10zM162 630h10v14h-10zM182 630h10v28h-10zM292 630h10v14h-10zM322 630h10v14h-10zM472 630h10v28h-10zM512 630h10v28h-10zM232 644h10v28h-10zM272 644h10v14h-10zM302 644h10v14h-10zM402 644h10v14h-10zM472 644h10v28h-10zM192 658h10v14h-10zM202 658h10v14h-10zM412 658h10v14h-10zM512 658h10v28h-10zM122 672h10v14h-10zM202 672h10v14h-10zM282 672h10v14h-10zM472 672h10v28h-10zM522 672h10v14h-10zM232 686h10v14h-10zM272 686h10v14h-10zM372 686h10v14h-10zM402 686h10v28h-10zM482 686h10v28h-10zM512 686h10v14h-10zM252 700h10v14h-10zM272 700h10v14h-10zM402 700h10v14h-10zM442 700h10v14h-10zM472 700h10v28h-10zM332 714h10v14h-10zM412 714h10v14h-10zM462 714h10v14h-10zM182 728h10v14h-10zM502 728h10v28h-10zM312 742h10v28h-10zM452 742h10v28h-10zM72 756h10v14h-10zM92 756h10v14h-10zM262 756h10v14h-10zM272 756h10v28h-10zM522 756h10v14h-10zM152 770h10v28h-10zM172 770h10v28h-10zM392 770h10v14h-10zM402 770h10v28h-10zM392 784h10v14h-10zM182 798h10v28h-10zM232 798h10v28h-10zM352 798h10v28h-10zM122 812h10v14h-10zM242 812h10v14h-10zM252 812h10v14h-10zM312 812h10v14h-10zM422 812h10v28h-10zM152 826h10v28h-10zM212 826h10v28h-10zM352 826h10v28h-10zM462 826h10v28h-10zM192 840h10v14h-10zM82 854h10v28h-10zM102 854h10v28h-10zM132 854h10v28h-10zM232 854h10v28h-10zM262 854h10v28h-10zM272 854h10v28h-10zM292 854h10v14h-10zM302 854h10v14h-10zM312 854h10v14h-10zM412 854h10v28h-10zM512 854h10v14h-10zM152 868h10v14h-10zM182 868h10v28h-10zM262 868h10v14h-10zM422 868h10v14h-10zM102 882h10v28h-10zM242 882h10v28h-10zM452 882h10v14h-10zM52 896h10v28h-10zM232 896h10v28h-10zM522 896h10v14h-10zM62 910h10v14h-10zM262 910h10v28h-10zM272 910h10v28h-10zM292 910h10v28h-10zM92 924h10v14h-10zM312 924h10v14h-10zM392 924h10v14h-10zM402 924h10v14h-10zM432 924h10v14h-10zM452 924h10v14h-10zM552 924h10v14h-10zM112 938h10v14h-10zM122 938h10v14h-10zM302 938h10v14h-10zM52 952h10v14h-10zM132 952h10v14h-10zM142 952h10v28h-10zM442 952h10v14h-10zM172 966h10v14h-10zM222 966h10v14h-10zM362 966h10v14h-10zM452 966h10v14h-10zM462 966h10v14h-10zM532 966h10v14h-10zM522 980h10v28h-10zM102 994h10v14h-10zM162 994h10v14h-10zM342 994h10v14h-10zM372 994h10v14h-10zM412 994h10v14h-10zM82 1008h10v14h-10zM112 1008h10v28h-10zM142 1008h10v14h-10zM172 1008h10v14h-10zM332 1008h10v28h-10zM432 1008h10v14h-10zM142 1022h10v28h-10zM152 1022h10v14h-10zM212 1022h10v14h-10zM232 1022h10v14h-10zM252 1022h10v28h-10zM332 1022h10v14h-10zM522 1022h10v28h-10zM132 1036h10v28h-10zM222 1036h10v28h-10zM232 1036h10v14h-10zM312 1036h10v14h-10zM342 1036h10v28h-10zM352 1036h10v14h-10zM52 1050h10v14h-10zM162 1050h10v28h-10zM322 1050h10v28h-10zM532 1050h10v14h-10zM302 1064h10v14h-10zM442 1064h10v14h-10zM522 1064h10v14h-10zM332 1078h10v28h-10zM192 1092h10v14h-10zM252 1092h10v14h-10zM432 1092h10v28h-10zM272 1106h10v14h-10zM442 1106h10v14h-10zM472 1106h10v14h-10zM72 1120h10v14h-10zM292 1120h10v14h-10zM322 1120h10v14h-10zM492 1120h10v14h-10zM132 1134h10v14h-10zM192 1134h10v28h-10zM202 1134h10v14h-10zM242 1134h10v14h-10zM292 1134h10v14h-10zM382 1134h10v14h-10zM422 1134h10v14h-10zM62 1148h10v14h-10zM142 1148h10v14h-10zM182 1148h10v14h-10zM232 1148h10v28h-10zM322 1148h10v28h-10zM152 1162h10v14h-10zM202 1162h10v14h-10zM372 1162h10v28h-10zM452 1162h10v14h-10zM52 1176h10v28h-10zM142 1176h10v14h-10zM242 1176h10v14h-10zM282 1176h10v28h-10zM292 1176h10v28h-10zM302 1176h10v14h-10zM452 1176h10v28h-10zM542 1176h10v14h-10zM52 1190h10v14h-10zM202 1190h10v14h-10zM402 1190h10v14h-10zM432 1190h10v14h-10zM462 1190h10v14h-10zM512 1190h10v14h-10zM292 1204h10v28h-10zM52 1218h10v14h-10zM312 1218h10v14h-10zM332 1218h10v14h-10zM492 1218h10v28h-10zM502 1218h10v14h-10zM552 1218h10v28h-10zM152 1232h10v14h-10zM162 1232h10v14h-10zM322 1232h10v28h-10zM422 1232h10v14h-10zM452 1232h10v14h-10zM492 1232h10v14h-10zM522 1232h10v14h-10z"/>
<path fill="#a7a386" d="M92 84h10v14h-10zM62 98h10v14h-10zM212 98h10v14h-10zM462 98h10v28h-10zM482 98h10v28h-10zM532 98h10v14h-10zM72 112h10v14h-10zM462 112h10v14h-10zM472 112h10v14h-10zM552 112h10v14h-10zM152 126h10v28h-10zM162 126h10v28h-10zM342 126h10v28h-10zM402 126h10v14h-10zM412 126h10v14h-10zM172 140h10v14h-10zM242 140h10v28h-10zM272 140h10v14h-10zM92 154h10v28h-10zM122 154h10v28h-10zM132 154h10v14h-10zM142 154h10v14h-10zM282 154h10v28h-10zM362 154h10v28h-10zM82 168h10v14h-10zM502 168h10v14h-10zM92 182h10v14h-10zM142 182h10v14h-10zM242 182h10v28h-10zM72 196h10v28h-10zM82 196h10v14h-10zM102 224h10v14h-10zM332 224h10v28h-10zM352 224h10v14h-10zM492 224h10v14h-10zM232 238h10v28h-10zM242 238h10v14h-10zM362 238h10v14h-10zM452 238h10v14h-10zM72 252h10v14h-10zM342 252h10v14h-10zM92 266h10v14h-10zM122 266h10v14h-10zM212 266h10v14h-10zM162 280h10v14h-10zM302 280h10v28h-10zM362 280h10v14h-10zM102 294h10v14h-10zM452 294h10v14h-10zM552 294h10v28h-10zM242 322h10v14h-10zM252 322h10v14h-10zM262 322h10v28h-10zM392 322h10v14h-10zM62 336h10v14h-10zM122 350h10v14h-10zM262 350h10v28h-10zM272 350h10v14h-10zM322 350h10v14h-10zM342 350h10v14h-10zM392 350h10v14h-10zM162 364h10v14h-10zM522 364h10v14h-10zM132 378h10v14h-10zM152 378h10v14h-10zM232 378h10v28h-10zM292 378h10v14h-10zM332 378h10v28h-10zM482 378h10v28h-10zM122 392h10v14h-10zM222 392h10v28h-10zM292 392h10v14h-10zM512 392h10v28h-10zM172 406h10v14h-10zM352 406h10v28h-10zM412 406h10v14h-10zM482 406h10v14h-10zM512 406h10v28h-10zM112 420h10v14h-10zM152 420h10v14h-10zM202 420h10v14h-10zM282 420h10v14h-10zM322 420h10v28h-10zM352 420h10v28h-10zM372 420h10v14h-10zM382 420h10v14h-10zM532 420h10v28h-10zM62 434h10v14h-10zM82 434h10v14h-10zM282 434h10v14h-10zM502 448h10v14h-10zM182 462h10v14h-10zM202 462h10v14h-10zM192 476h10v28h-10zM322 476h10v14h-10zM422 476h10v28h-10zM542 476h10v14h-10zM342 490h10v14h-10zM362 490h10v14h-10zM542 490h10v14h-10zM52 518h10v28h-10zM362 518h10v14h-10zM382 532h10v14h-10zM52 546h10v28h-10zM332 546h10v14h-10zM402 546h10v28h-10zM452 546h10v14h-10zM262 560h10v28h-10zM312 560h10v14h-10zM412 560h10v14h-10zM542 560h10v14h-10zM112 574h10v14h-10zM222 574h10v14h-10zM382 574h10v14h-10zM202 588h10v14h-10zM452 588h10v28h-10zM262 602h10v28h-10zM292 602h10v28h-10zM92 616h10v14h-10zM132 616h10v14h-10zM252 616h10v14h-10zM302 616h10v28h-10zM422 616h10v14h-10zM482 616h10v14h-10zM552 616h10v14h-10zM52 630h10v14h-10zM112 630h10v28h-10zM502 630h10v28h-10zM82 644h10v28h-10zM162 644h10v14h-10zM182 644h10v28h-10zM222 644h10v14h-10zM282 644h10v28h-10zM372 644h10v14h-10zM452 644h10v14h-10zM312 658h10v14h-10zM342 658h10v14h-10zM522 658h10v14h-10zM62 672h10v14h-10zM102 672h10v14h-10zM172 672h10v28h-10zM232 672h10v14h-10zM412 672h10v28h-10zM142 686h10v28h-10zM152 686h10v14h-10zM192 686h10v28h-10zM152 700h10v14h-10zM162 700h10v14h-10zM172 700h10v14h-10zM292 700h10v14h-10zM242 714h10v14h-10zM272 714h10v28h-10zM472 714h10v14h-10zM482 714h10v14h-10zM542 728h10v14h-10zM152 742h10v14h-10zM542 742h10v28h-10zM202 756h10v14h-10zM242 756h10v28h-10zM302 756h10v14h-10zM452 756h10v14h-10zM492 756h10v14h-10zM552 770h10v14h-10zM162 784h10v14h-10zM242 784h10v14h-10zM312 784h10v28h-10zM142 798h10v14h-10zM162 798h10v14h-10zM72 812h10v14h-10zM172 812h10v14h-10zM292 812h10v14h-10zM372 812h10v28h-10zM392 812h10v14h-10zM52 826h10v14h-10zM382 826h10v14h-10zM362 840h10v14h-10zM142 854h10v14h-10zM172 854h10v14h-10zM492 854h10v14h-10zM502 854h10v28h-10zM212 868h10v14h-10zM342 868h10v14h-10zM132 882h10v14h-10zM292 882h10v14h-10zM472 882h10v14h-10zM102 896h10v14h-10zM292 896h10v14h-10zM502 896h10v14h-10zM332 910h10v14h-10zM362 910h10v14h-10zM432 910h10v28h-10zM222 938h10v14h-10zM252 938h10v14h-10zM222 952h10v14h-10zM252 952h10v14h-10zM492 952h10v14h-10zM112 966h10v14h-10zM212 980h10v28h-10zM232 980h10v14h-10zM302 980h10v28h-10zM532 980h10v14h-10zM272 994h10v14h-10zM522 994h10v14h-10zM552 994h10v14h-10zM72 1008h10v28h-10zM302 1008h10v14h-10zM322 1008h10v28h-10zM92 1022h10v14h-10zM312 1022h10v28h-10zM492 1022h10v28h-10zM52 1036h10v14h-10zM182 1036h10v14h-10zM492 1036h10v28h-10zM532 1036h10v14h-10zM82 1050h10v14h-10zM182 1064h10v14h-10zM82 1078h10v14h-10zM192 1078h10v14h-10zM212 1092h10v14h-10zM372 1092h10v14h-10zM442 1092h10v14h-10zM502 1092h10v14h-10zM522 1092h10v14h-10zM532 1092h10v14h-10zM52 1106h10v14h-10zM102 1106h10v14h-10zM212 1106h10v14h-10zM112 1120h10v14h-10zM172 1120h10v14h-10zM372 1120h10v14h-10zM412 1120h10v14h-10zM462 1120h10v14h-10zM272 1134h10v28h-10zM322 1134h10v14h-10zM372 1134h10v14h-10zM512 1134h10v14h-10zM422 1148h10v28h-10zM462 1148h10v14h-10zM352 1162h10v14h-10zM432 1162h10v14h-10zM552 1162h10v14h-10zM152 1176h10v28h-10zM342 1176h10v14h-10zM512 1176h10v14h-10zM142 1190h10v28h-10zM292 1190h10v14h-10zM372 1190h10v28h-10zM192 1204h10v14h-10zM342 1204h10v14h-10zM462 1204h10v14h-10zM542 1204h10v28h-10zM282 1218h10v28h-10zM322 1218h10v14h-10zM342 1218h10v14h-10zM422 1218h10v14h-10zM122 1232h10v14h-10zM312 1232h10v14h-10z"/>
<path fill="#cdbf98" d="M142 84h10v14h-10zM242 84h10v14h-10zM272 84h10v14h-10zM312 84h10v14h-10zM322 84h10v28h-10zM52 98h10v14h-10zM152 98h10v14h-10zM282 98h10v14h-10zM292 98h10v14h-10zM352 98h10v14h-10zM452 98h10v14h-10zM522 98h10v14h-10zM542 98h10v14h-10zM552 98h10v14h-10zM62 112h10v28h-10zM102 112h10v14h-10zM152 112h10v14h-10zM222 112h10v28h-10zM232 112h10v14h-10zM372 112h10v14h-10zM382 112h10v28h-10zM392 112h10v14h-10zM402 112h10v14h-10zM502 112h10v28h-10zM182 126h10v28h-10zM292 126h10v28h-10zM432 126h10v28h-10zM462 126h10v14h-10zM542 126h10v28h-10zM72 140h10v14h-10zM132 140h10v14h-10zM152 140h10v14h-10zM302 140h10v14h-10zM412 140h10v14h-10zM472 140h10v14h-10zM502 140h10v14h-10zM332 154h10v28h-10zM342 154h10v28h-10zM472 154h10v14h-10zM62 168h10v14h-10zM122 168h10v28h-10zM222 168h10v28h-10zM492 168h10v14h-10zM52 182h10v14h-10zM152 182h10v14h-10zM162 182h10v14h-10zM452 182h10v14h-10zM462 182h10v14h-10zM102 196h10v28h-10zM112 196h10v14h-10zM142 196h10v14h-10zM342 196h10v14h-10zM392 196h10v28h-10zM552 196h10v14h-10zM92 210h10v28h-10zM152 210h10v14h-10zM272 210h10v28h-10zM322 210h10v28h-10zM332 210h10v14h-10zM372 210h10v14h-10zM382 210h10v14h-10zM422 210h10v28h-10zM482 210h10v14h-10zM82 224h10v14h-10zM232 224h10v28h-10zM382 224h10v28h-10zM452 224h10v14h-10zM482 224h10v14h-10zM512 224h10v14h-10zM522 224h10v28h-10zM112 238h10v14h-10zM312 238h10v14h-10zM392 238h10v14h-10zM52 252h10v14h-10zM252 252h10v14h-10zM352 252h10v28h-10zM382 252h10v14h-10zM422 252h10v14h-10zM432 252h10v14h-10zM542 252h10v14h-10zM112 266h10v14h-10zM142 266h10v28h-10zM172 266h10v14h-10zM232 266h10v14h-10zM402 266h10v14h-10zM72 280h10v14h-10zM142 280h10v14h-10zM182 280h10v14h-10zM192 280h10v28h-10zM282 280h10v14h-10zM432 280h10v28h-10zM52 294h10v14h-10zM142 294h10v14h-10zM202 294h10v28h-10zM312 294h10v28h-10zM362 294h10v14h-10zM102 308h10v14h-10zM172 308h10v14h-10zM322 308h10v14h-10zM362 308h10v28h-10zM382 308h10v28h-10zM442 308h10v14h-10zM202 322h10v28h-10zM272 322h10v14h-10zM232 336h10v14h-10zM532 336h10v14h-10zM552 336h10v14h-10zM152 350h10v28h-10zM162 350h10v28h-10zM282 350h10v14h-10zM332 350h10v28h-10zM482 350h10v14h-10zM82 364h10v14h-10zM102 364h10v14h-10zM112 364h10v28h-10zM302 364h10v14h-10zM322 364h10v28h-10zM392 364h10v14h-10zM52 378h10v14h-10zM72 378h10v28h-10zM192 378h10v14h-10zM202 378h10v14h-10zM212 378h10v28h-10zM242 378h10v28h-10zM372 378h10v14h-10zM432 378h10v14h-10zM512 378h10v14h-10zM522 378h10v28h-10zM52 392h10v14h-10zM162 392h10v14h-10zM312 392h10v28h-10zM342 392h10v14h-10zM102 406h10v14h-10zM112 406h10v14h-10zM202 406h10v14h-10zM232 406h10v28h-10zM242 420h10v14h-10zM392 420h10v14h-10zM502 420h10v14h-10zM132 434h10v14h-10zM172 434h10v14h-10zM192 434h10v14h-10zM232 434h10v14h-10zM342 434h10v14h-10zM362 434h10v14h-10zM532 434h10v28h-10zM72 448h10v14h-10zM132 448h10v14h-10zM212 448h10v14h-10zM332 448h10v28h-10zM482 448h10v14h-10zM492 448h10v14h-10zM192 462h10v14h-10zM222 462h10v14h-10zM292 462h10v14h-10zM322 462h10v14h-10zM382 462h10v14h-10zM462 462h10v14h-10zM182 476h10v14h-10zM312 476h10v28h-10zM352 476h10v14h-10zM482 476h10v28h-10zM152 490h10v14h-10zM202 490h10v14h-10zM222 490h10v14h-10zM232 490h10v14h-10zM262 490h10v14h-10zM282 490h10v28h-10zM292 490h10v14h-10zM392 490h10v28h-10zM422 490h10v14h-10zM482 490h10v14h-10zM142 504h10v28h-10zM302 504h10v14h-10zM382 504h10v14h-10zM522 504h10v28h-10zM62 518h10v28h-10zM112 518h10v14h-10zM132 518h10v14h-10zM222 518h10v14h-10zM322 518h10v14h-10zM332 518h10v28h-10zM372 518h10v14h-10zM162 532h10v14h-10zM312 532h10v14h-10zM322 532h10v14h-10zM372 532h10v28h-10zM522 532h10v28h-10zM532 532h10v14h-10zM122 546h10v14h-10zM162 546h10v28h-10zM312 546h10v14h-10zM412 546h10v14h-10zM472 546h10v14h-10zM482 546h10v28h-10zM522 546h10v28h-10zM172 560h10v28h-10zM282 560h10v28h-10zM422 560h10v14h-10zM442 560h10v14h-10zM82 574h10v14h-10zM152 574h10v14h-10zM172 574h10v14h-10zM232 574h10v28h-10zM332 574h10v28h-10zM482 574h10v14h-10zM52 588h10v28h-10zM72 588h10v28h-10zM142 588h10v14h-10zM252 588h10v14h-10zM262 588h10v14h-10zM372 588h10v14h-10zM412 588h10v14h-10zM522 588h10v28h-10zM102 602h10v14h-10zM142 602h10v14h-10zM252 602h10v14h-10zM352 602h10v14h-10zM422 602h10v14h-10zM82 616h10v14h-10zM142 616h10v14h-10zM212 616h10v14h-10zM282 616h10v14h-10zM352 616h10v28h-10zM382 616h10v14h-10zM412 616h10v14h-10zM452 616h10v14h-10zM152 630h10v28h-10zM172 630h10v14h-10zM252 630h10v28h-10zM342 630h10v14h-10zM432 630h10v14h-10zM542 630h10v14h-10zM552 630h10v14h-10zM322 644h10v14h-10zM432 644h10v28h-10zM502 644h10v28h-10zM62 658h10v14h-10zM452 658h10v28h-10zM532 658h10v14h-10zM152 672h10v14h-10zM182 672h10v14h-10zM192 672h10v14h-10zM222 672h10v14h-10zM422 672h10v14h-10zM432 672h10v28h-10zM442 672h10v28h-10zM52 686h10v14h-10zM182 686h10v28h-10zM442 686h10v28h-10zM492 686h10v14h-10zM502 686h10v28h-10zM522 686h10v28h-10zM552 686h10v28h-10zM72 700h10v14h-10zM122 714h10v14h-10zM142 714h10v14h-10zM172 714h10v14h-10zM292 714h10v14h-10zM322 714h10v28h-10zM352 714h10v28h-10zM372 714h10v14h-10zM532 714h10v14h-10zM52 728h10v14h-10zM62 728h10v14h-10zM72 728h10v14h-10zM102 728h10v14h-10zM142 728h10v14h-10zM232 728h10v14h-10zM302 728h10v14h-10zM322 728h10v28h-10zM422 728h10v14h-10zM532 728h10v14h-10zM552 728h10v28h-10zM132 742h10v14h-10zM182 742h10v14h-10zM252 742h10v14h-10zM352 742h10v28h-10zM382 742h10v14h-10zM392 742h10v14h-10zM432 742h10v14h-10zM512 742h10v14h-10zM162 756h10v14h-10zM252 756h10v28h-10zM392 756h10v28h-10zM412 756h10v28h-10zM432 756h10v28h-10zM112 770h10v14h-10zM122 770h10v28h-10zM242 770h10v14h-10zM252 770h10v14h-10zM482 770h10v28h-10zM512 770h10v14h-10zM522 770h10v28h-10zM92 784h10v14h-10zM202 784h10v14h-10zM532 784h10v14h-10zM52 798h10v14h-10zM92 798h10v14h-10zM152 798h10v14h-10zM192 798h10v14h-10zM322 798h10v14h-10zM362 798h10v28h-10zM452 798h10v14h-10zM522 798h10v28h-10zM82 812h10v28h-10zM202 812h10v14h-10zM282 812h10v28h-10zM322 812h10v28h-10zM382 812h10v28h-10zM492 812h10v28h-10zM552 812h10v14h-10zM92 826h10v28h-10zM102 826h10v14h-10zM112 826h10v14h-10zM122 826h10v14h-10zM132 826h10v28h-10zM252 826h10v14h-10zM262 826h10v28h-10zM312 826h10v14h-10zM332 826h10v14h-10zM372 826h10v14h-10zM272 840h10v14h-10zM292 840h10v14h-10zM352 840h10v14h-10zM392 840h10v28h-10zM452 840h10v14h-10zM472 840h10v14h-10zM502 840h10v14h-10zM522 840h10v28h-10zM252 854h10v14h-10zM232 868h10v14h-10zM242 868h10v14h-10zM492 868h10v14h-10zM82 882h10v14h-10zM92 882h10v14h-10zM142 882h10v14h-10zM252 882h10v14h-10zM262 882h10v14h-10zM272 882h10v28h-10zM512 882h10v28h-10zM522 882h10v14h-10zM122 896h10v14h-10zM302 896h10v28h-10zM322 896h10v14h-10zM342 896h10v14h-10zM372 896h10v14h-10zM492 896h10v14h-10zM102 910h10v14h-10zM172 910h10v28h-10zM342 910h10v14h-10zM382 910h10v14h-10zM422 910h10v14h-10zM532 910h10v14h-10zM122 924h10v28h-10zM142 924h10v14h-10zM242 924h10v28h-10zM252 924h10v14h-10zM332 924h10v14h-10zM382 924h10v14h-10zM422 924h10v14h-10zM182 938h10v14h-10zM442 938h10v14h-10zM482 938h10v14h-10zM522 938h10v14h-10zM542 938h10v14h-10zM122 952h10v14h-10zM292 952h10v14h-10zM482 952h10v28h-10zM512 952h10v14h-10zM102 966h10v14h-10zM122 966h10v14h-10zM132 966h10v14h-10zM182 966h10v14h-10zM312 966h10v14h-10zM412 966h10v14h-10zM552 966h10v14h-10zM92 980h10v14h-10zM112 980h10v14h-10zM152 980h10v28h-10zM292 980h10v28h-10zM352 980h10v14h-10zM382 980h10v28h-10zM432 980h10v14h-10zM132 994h10v14h-10zM192 994h10v28h-10zM322 994h10v14h-10zM442 994h10v14h-10zM532 994h10v14h-10zM162 1008h10v28h-10zM212 1008h10v28h-10zM242 1008h10v14h-10zM362 1008h10v28h-10zM402 1008h10v14h-10zM472 1008h10v28h-10zM522 1008h10v28h-10zM52 1022h10v14h-10zM62 1022h10v14h-10zM202 1022h10v14h-10zM242 1022h10v14h-10zM352 1022h10v14h-10zM362 1022h10v28h-10zM392 1022h10v14h-10zM442 1022h10v14h-10zM282 1036h10v28h-10zM332 1036h10v14h-10zM452 1036h10v28h-10zM212 1050h10v28h-10zM242 1050h10v14h-10zM352 1050h10v28h-10zM102 1064h10v14h-10zM372 1064h10v28h-10zM422 1064h10v14h-10zM432 1064h10v14h-10zM92 1078h10v14h-10zM122 1078h10v28h-10zM172 1078h10v14h-10zM272 1078h10v14h-10zM362 1078h10v14h-10zM432 1078h10v14h-10zM442 1078h10v14h-10zM522 1078h10v14h-10zM542 1078h10v14h-10zM52 1092h10v14h-10zM112 1092h10v14h-10zM132 1092h10v14h-10zM162 1092h10v14h-10zM172 1092h10v14h-10zM282 1092h10v14h-10zM292 1092h10v14h-10zM482 1092h10v14h-10zM62 1106h10v28h-10zM142 1106h10v14h-10zM202 1106h10v28h-10zM242 1106h10v28h-10zM352 1106h10v28h-10zM502 1106h10v28h-10zM182 1120h10v14h-10zM192 1120h10v28h-10zM262 1120h10v14h-10zM542 1120h10v14h-10zM82 1134h10v28h-10zM92 1134h10v28h-10zM162 1134h10v14h-10zM262 1134h10v14h-10zM432 1134h10v14h-10zM442 1134h10v14h-10zM452 1134h10v28h-10zM522 1134h10v14h-10zM72 1148h10v14h-10zM242 1148h10v28h-10zM382 1148h10v14h-10zM402 1148h10v28h-10zM432 1148h10v14h-10zM132 1162h10v14h-10zM412 1162h10v14h-10zM522 1162h10v14h-10zM82 1176h10v28h-10zM252 1176h10v14h-10zM322 1176h10v28h-10zM372 1176h10v28h-10zM382 1176h10v14h-10zM532 1176h10v28h-10zM282 1190h10v14h-10zM352 1190h10v14h-10zM412 1190h10v14h-10zM472 1190h10v14h-10zM522 1190h10v28h-10zM52 1204h10v14h-10zM72 1204h10v28h-10zM202 1204h10v14h-10zM322 1204h10v28h-10zM402 1204h10v14h-10zM452 1204h10v14h-10zM492 1204h10v14h-10zM372 1218h10v14h-10zM442 1218h10v14h-10zM472 1218h10v28h-10zM112 1232h10v14h-10zM142 1232h10v14h-10zM212 1232h10v14h-10zM262 1232h10v14h-10zM402 1232h10v14h-10zM512 1232h10v14h-10z"/>
<path fill="#8d8a70" d="M222 84h10v14h-10zM492 84h10v14h-10zM242 98h10v14h-10zM482 126h10v28h-10zM192 140h10v14h-10zM182 154h10v28h-10zM382 154h10v14h-10zM462 154h10v14h-10zM282 182h10v14h-10zM502 182h10v14h-10zM542 224h10v28h-10zM82 266h10v14h-10zM442 294h10v14h-10zM522 294h10v14h-10zM72 322h10v14h-10zM182 336h10v14h-10zM542 336h10v14h-10zM212 364h10v28h-10zM302 392h10v14h-10zM422 392h10v14h-10zM302 406h10v14h-10zM332 406h10v14h-10zM182 420h10v14h-10zM112 434h10v14h-10zM82 448h10v28h-10zM342 448h10v14h-10zM422 448h10v28h-10zM72 462h10v28h-10zM202 476h10v28h-10zM372 490h10v14h-10zM512 490h10v28h-10zM82 504h10v14h-10zM252 504h10v28h-10zM452 532h10v28h-10zM132 546h10v14h-10zM212 588h10v28h-10zM482 588h10v14h-10zM82 630h10v28h-10zM192 630h10v28h-10zM222 630h10v28h-10zM152 644h10v28h-10zM202 644h10v14h-10zM362 644h10v14h-10zM242 658h10v28h-10zM422 658h10v28h-10zM552 658h10v14h-10zM352 672h10v14h-10zM382 686h10v28h-10zM432 686h10v14h-10zM332 742h10v14h-10zM232 756h10v14h-10zM62 770h10v14h-10zM142 784h10v28h-10zM332 798h10v14h-10zM472 798h10v28h-10zM502 826h10v28h-10zM52 840h10v14h-10zM72 840h10v14h-10zM362 868h10v14h-10zM542 868h10v14h-10zM152 882h10v14h-10zM172 882h10v28h-10zM302 882h10v28h-10zM482 896h10v14h-10zM482 910h10v14h-10zM552 910h10v14h-10zM502 938h10v14h-10zM262 966h10v28h-10zM282 966h10v14h-10zM222 980h10v28h-10zM372 1022h10v28h-10zM302 1050h10v14h-10zM412 1050h10v28h-10zM402 1064h10v28h-10zM452 1064h10v14h-10zM352 1078h10v28h-10zM242 1092h10v28h-10zM62 1134h10v28h-10zM82 1148h10v14h-10zM332 1148h10v14h-10zM482 1162h10v14h-10zM422 1176h10v14h-10zM142 1218h10v28h-10zM412 1232h10v14h-10z"/>
<path fill="#c4b48c" d="M292 84h10v14h-10zM342 84h10v14h-10zM382 84h10v14h-10zM422 84h10v14h-10zM432 84h10v14h-10zM482 84h10v14h-10zM112 98h10v28h-10zM122 98h10v14h-10zM372 98h10v14h-10zM412 98h10v14h-10zM112 112h10v14h-10zM122 112h10v14h-10zM132 112h10v28h-10zM192 112h10v28h-10zM412 112h10v28h-10zM442 112h10v28h-10zM542 112h10v14h-10zM362 126h10v14h-10zM372 126h10v14h-10zM522 126h10v14h-10zM92 140h10v14h-10zM162 140h10v14h-10zM202 140h10v14h-10zM292 140h10v28h-10zM322 140h10v14h-10zM372 140h10v14h-10zM432 140h10v14h-10zM462 140h10v28h-10zM482 140h10v14h-10zM82 154h10v14h-10zM92 168h10v14h-10zM182 168h10v14h-10zM192 168h10v14h-10zM202 168h10v14h-10zM322 168h10v14h-10zM332 168h10v14h-10zM182 182h10v14h-10zM442 182h10v14h-10zM532 182h10v14h-10zM92 196h10v28h-10zM232 196h10v28h-10zM252 196h10v28h-10zM292 196h10v28h-10zM352 196h10v14h-10zM472 196h10v28h-10zM482 196h10v14h-10zM502 196h10v14h-10zM122 210h10v14h-10zM192 210h10v14h-10zM432 210h10v28h-10zM212 224h10v14h-10zM272 224h10v14h-10zM342 224h10v14h-10zM502 224h10v14h-10zM552 224h10v14h-10zM222 238h10v14h-10zM322 238h10v14h-10zM432 238h10v14h-10zM462 238h10v14h-10zM522 238h10v28h-10zM532 238h10v14h-10zM542 238h10v14h-10zM102 252h10v28h-10zM142 252h10v14h-10zM472 252h10v14h-10zM152 266h10v28h-10zM242 266h10v14h-10zM302 266h10v28h-10zM362 266h10v28h-10zM472 266h10v14h-10zM512 266h10v28h-10zM352 280h10v14h-10zM382 280h10v14h-10zM472 280h10v28h-10zM482 280h10v14h-10zM492 280h10v14h-10zM322 294h10v28h-10zM412 294h10v28h-10zM492 294h10v14h-10zM182 308h10v14h-10zM302 308h10v14h-10zM372 308h10v28h-10zM542 308h10v14h-10zM62 322h10v28h-10zM112 322h10v14h-10zM162 322h10v14h-10zM212 322h10v14h-10zM292 322h10v14h-10zM242 336h10v28h-10zM342 336h10v14h-10zM372 336h10v14h-10zM62 350h10v14h-10zM472 350h10v28h-10zM242 364h10v14h-10zM382 364h10v14h-10zM412 364h10v14h-10zM162 378h10v14h-10zM312 378h10v14h-10zM382 378h10v14h-10zM392 378h10v14h-10zM442 378h10v28h-10zM452 378h10v28h-10zM242 392h10v28h-10zM252 392h10v14h-10zM272 392h10v28h-10zM332 392h10v14h-10zM482 392h10v14h-10zM122 406h10v14h-10zM152 406h10v14h-10zM162 406h10v14h-10zM192 406h10v14h-10zM212 406h10v14h-10zM262 406h10v14h-10zM52 420h10v14h-10zM72 420h10v28h-10zM172 420h10v14h-10zM302 420h10v14h-10zM342 420h10v28h-10zM122 434h10v28h-10zM252 434h10v28h-10zM322 434h10v14h-10zM382 434h10v14h-10zM402 434h10v28h-10zM432 434h10v28h-10zM542 434h10v14h-10zM112 448h10v14h-10zM242 448h10v14h-10zM262 448h10v14h-10zM352 448h10v28h-10zM82 462h10v14h-10zM92 462h10v14h-10zM142 462h10v14h-10zM162 462h10v14h-10zM282 462h10v14h-10zM52 476h10v14h-10zM102 476h10v14h-10zM212 476h10v14h-10zM222 476h10v28h-10zM242 476h10v28h-10zM262 476h10v14h-10zM402 476h10v14h-10zM82 490h10v28h-10zM132 490h10v14h-10zM182 490h10v14h-10zM492 490h10v14h-10zM502 490h10v14h-10zM532 490h10v14h-10zM62 504h10v14h-10zM92 504h10v14h-10zM292 504h10v14h-10zM332 504h10v14h-10zM342 504h10v28h-10zM362 504h10v28h-10zM552 504h10v28h-10zM82 518h10v28h-10zM92 518h10v14h-10zM122 518h10v28h-10zM212 518h10v14h-10zM282 518h10v28h-10zM462 518h10v14h-10zM492 518h10v14h-10zM522 518h10v14h-10zM62 532h10v14h-10zM82 532h10v28h-10zM122 532h10v14h-10zM222 532h10v14h-10zM262 532h10v14h-10zM362 532h10v14h-10zM392 532h10v14h-10zM412 532h10v14h-10zM472 532h10v14h-10zM482 532h10v14h-10zM172 546h10v28h-10zM242 546h10v14h-10zM272 546h10v14h-10zM292 546h10v28h-10zM372 546h10v28h-10zM542 546h10v28h-10zM552 546h10v14h-10zM92 560h10v14h-10zM162 560h10v14h-10zM292 560h10v28h-10zM332 560h10v14h-10zM382 560h10v28h-10zM432 560h10v14h-10zM492 560h10v14h-10zM522 560h10v28h-10zM532 560h10v14h-10zM132 574h10v14h-10zM192 574h10v14h-10zM252 574h10v14h-10zM232 588h10v14h-10zM272 588h10v14h-10zM302 588h10v14h-10zM322 588h10v14h-10zM112 602h10v28h-10zM172 602h10v28h-10zM242 602h10v14h-10zM412 602h10v14h-10zM432 602h10v14h-10zM522 602h10v14h-10zM542 602h10v28h-10zM362 616h10v28h-10zM522 616h10v14h-10zM542 616h10v14h-10zM232 630h10v28h-10zM262 630h10v14h-10zM372 630h10v14h-10zM442 630h10v14h-10zM452 630h10v28h-10zM462 630h10v14h-10zM492 630h10v14h-10zM62 644h10v14h-10zM122 644h10v14h-10zM212 644h10v14h-10zM382 644h10v28h-10zM422 644h10v28h-10zM462 644h10v14h-10zM492 644h10v28h-10zM522 644h10v14h-10zM552 644h10v14h-10zM92 658h10v14h-10zM142 658h10v14h-10zM302 658h10v28h-10zM322 658h10v28h-10zM362 658h10v14h-10zM542 658h10v28h-10zM72 672h10v14h-10zM162 672h10v14h-10zM242 672h10v14h-10zM372 672h10v14h-10zM542 672h10v14h-10zM552 672h10v28h-10zM82 686h10v28h-10zM122 686h10v28h-10zM162 686h10v14h-10zM292 686h10v28h-10zM332 686h10v14h-10zM182 700h10v28h-10zM352 700h10v14h-10zM412 700h10v14h-10zM112 714h10v28h-10zM152 714h10v14h-10zM162 714h10v28h-10zM202 714h10v14h-10zM212 714h10v14h-10zM452 714h10v14h-10zM132 728h10v14h-10zM222 728h10v28h-10zM282 728h10v14h-10zM362 728h10v14h-10zM472 728h10v14h-10zM512 728h10v14h-10zM222 742h10v28h-10zM232 742h10v28h-10zM342 742h10v14h-10zM362 742h10v14h-10zM422 742h10v14h-10zM552 742h10v14h-10zM182 756h10v14h-10zM342 756h10v14h-10zM362 756h10v14h-10zM442 756h10v14h-10zM532 756h10v14h-10zM542 756h10v14h-10zM302 770h10v14h-10zM322 770h10v28h-10zM372 770h10v14h-10zM102 784h10v14h-10zM132 784h10v14h-10zM152 784h10v28h-10zM182 784h10v28h-10zM232 784h10v14h-10zM252 784h10v28h-10zM322 784h10v14h-10zM342 784h10v28h-10zM352 784h10v14h-10zM502 784h10v28h-10zM552 784h10v28h-10zM202 798h10v28h-10zM262 798h10v28h-10zM272 798h10v14h-10zM302 798h10v14h-10zM392 798h10v28h-10zM432 798h10v14h-10zM502 798h10v28h-10zM532 798h10v28h-10zM112 812h10v28h-10zM132 812h10v14h-10zM142 812h10v28h-10zM152 812h10v28h-10zM212 812h10v14h-10zM302 812h10v28h-10zM412 812h10v14h-10zM462 812h10v28h-10zM402 826h10v14h-10zM422 826h10v14h-10zM432 826h10v28h-10zM62 840h10v28h-10zM162 840h10v28h-10zM262 840h10v28h-10zM462 840h10v14h-10zM182 854h10v28h-10zM202 854h10v14h-10zM242 854h10v14h-10zM282 854h10v14h-10zM482 854h10v14h-10zM542 854h10v14h-10zM102 868h10v14h-10zM172 868h10v28h-10zM312 868h10v28h-10zM372 868h10v14h-10zM432 868h10v14h-10zM442 868h10v28h-10zM532 868h10v14h-10zM72 882h10v14h-10zM212 882h10v28h-10zM232 882h10v14h-10zM402 882h10v14h-10zM422 882h10v14h-10zM542 882h10v14h-10zM62 896h10v14h-10zM142 896h10v14h-10zM152 896h10v28h-10zM282 896h10v14h-10zM392 896h10v14h-10zM412 896h10v14h-10zM92 910h10v14h-10zM122 910h10v14h-10zM232 910h10v14h-10zM242 910h10v14h-10zM252 910h10v28h-10zM302 910h10v14h-10zM412 910h10v28h-10zM502 910h10v28h-10zM52 924h10v14h-10zM72 924h10v14h-10zM112 924h10v28h-10zM152 924h10v14h-10zM282 924h10v28h-10zM362 924h10v28h-10zM442 924h10v28h-10zM102 938h10v14h-10zM232 938h10v14h-10zM262 938h10v14h-10zM292 938h10v14h-10zM332 938h10v28h-10zM342 938h10v28h-10zM392 938h10v14h-10zM462 938h10v14h-10zM492 938h10v28h-10zM72 952h10v14h-10zM112 952h10v14h-10zM162 952h10v14h-10zM172 952h10v14h-10zM322 952h10v14h-10zM502 952h10v14h-10zM532 952h10v28h-10zM542 952h10v14h-10zM52 966h10v14h-10zM152 966h10v14h-10zM442 966h10v14h-10zM472 966h10v14h-10zM502 966h10v14h-10zM192 980h10v14h-10zM412 980h10v14h-10zM422 980h10v14h-10zM512 980h10v14h-10zM72 994h10v28h-10zM82 994h10v28h-10zM92 994h10v14h-10zM292 994h10v28h-10zM542 994h10v14h-10zM52 1008h10v14h-10zM392 1008h10v14h-10zM482 1008h10v28h-10zM192 1022h10v14h-10zM272 1022h10v28h-10zM402 1022h10v14h-10zM412 1022h10v14h-10zM532 1022h10v14h-10zM82 1036h10v14h-10zM122 1036h10v14h-10zM142 1036h10v14h-10zM322 1036h10v14h-10zM482 1036h10v14h-10zM502 1036h10v28h-10zM542 1036h10v28h-10zM262 1050h10v14h-10zM282 1050h10v28h-10zM342 1050h10v14h-10zM382 1050h10v14h-10zM392 1050h10v28h-10zM522 1050h10v14h-10zM542 1050h10v28h-10zM92 1064h10v14h-10zM222 1064h10v14h-10zM232 1064h10v28h-10zM362 1064h10v28h-10zM52 1078h10v28h-10zM62 1078h10v14h-10zM182 1078h10v14h-10zM302 1078h10v28h-10zM392 1078h10v14h-10zM422 1078h10v28h-10zM472 1078h10v14h-10zM352 1092h10v14h-10zM362 1092h10v14h-10zM402 1092h10v14h-10zM72 1106h10v14h-10zM132 1106h10v14h-10zM152 1106h10v14h-10zM182 1106h10v14h-10zM282 1106h10v28h-10zM332 1106h10v14h-10zM372 1106h10v14h-10zM162 1120h10v28h-10zM212 1120h10v14h-10zM332 1120h10v28h-10zM362 1120h10v14h-10zM122 1134h10v14h-10zM342 1134h10v14h-10zM462 1134h10v14h-10zM552 1134h10v28h-10zM162 1148h10v28h-10zM262 1148h10v28h-10zM272 1148h10v14h-10zM292 1148h10v14h-10zM372 1148h10v14h-10zM392 1148h10v14h-10zM502 1148h10v14h-10zM82 1162h10v14h-10zM212 1162h10v14h-10zM282 1162h10v14h-10zM322 1162h10v14h-10zM362 1162h10v14h-10zM402 1162h10v28h-10zM192 1176h10v14h-10zM502 1176h10v28h-10zM62 1190h10v14h-10zM82 1190h10v28h-10zM92 1190h10v14h-10zM132 1190h10v14h-10zM152 1190h10v14h-10zM172 1190h10v14h-10zM222 1190h10v14h-10zM312 1190h10v14h-10zM542 1190h10v14h-10zM122 1204h10v14h-10zM152 1204h10v28h-10zM212 1204h10v14h-10zM302 1204h10v14h-10zM372 1204h10v14h-10zM382 1204h10v28h-10zM392 1204h10v14h-10zM482 1204h10v14h-10zM532 1204h10v28h-10zM92 1218h10v28h-10zM192 1218h10v14h-10zM382 1218h10v14h-10zM482 1218h10v14h-10zM522 1218h10v14h-10zM92 1232h10v14h-10zM102 1232h10v14h-10zM282 1232h10v14h-10zM302 1232h10v14h-10zM432 1232h10v14h-10zM482 1232h10v14h-10zM502 1232h10v28h-10zM542 1232h10v14h-10z"/>
<path fill="#b2a98c" d="M302 84h10v14h-10zM392 84h10v14h-10zM522 84h10v14h-10zM72 98h10v14h-10zM382 98h10v14h-10zM392 98h10v14h-10zM402 98h10v28h-10zM162 112h10v14h-10zM182 112h10v28h-10zM292 112h10v14h-10zM522 112h10v14h-10zM312 126h10v14h-10zM252 140h10v14h-10zM422 140h10v14h-10zM232 154h10v14h-10zM262 154h10v14h-10zM272 154h10v14h-10zM312 154h10v28h-10zM502 154h10v14h-10zM552 154h10v28h-10zM132 168h10v14h-10zM152 168h10v14h-10zM422 168h10v14h-10zM462 168h10v14h-10zM512 168h10v14h-10zM522 168h10v28h-10zM212 182h10v28h-10zM222 182h10v28h-10zM252 182h10v28h-10zM302 182h10v28h-10zM432 182h10v14h-10zM152 196h10v28h-10zM222 196h10v14h-10zM272 196h10v28h-10zM372 196h10v14h-10zM402 196h10v14h-10zM442 196h10v14h-10zM52 210h10v14h-10zM132 210h10v28h-10zM182 210h10v14h-10zM242 210h10v14h-10zM412 210h10v14h-10zM372 224h10v14h-10zM402 224h10v28h-10zM472 224h10v28h-10zM102 238h10v14h-10zM132 238h10v28h-10zM152 238h10v28h-10zM162 238h10v28h-10zM292 238h10v14h-10zM352 238h10v14h-10zM372 238h10v28h-10zM472 238h10v28h-10zM262 252h10v28h-10zM492 252h10v14h-10zM522 252h10v28h-10zM442 266h10v14h-10zM132 280h10v14h-10zM322 280h10v14h-10zM372 280h10v14h-10zM382 294h10v28h-10zM392 294h10v14h-10zM432 294h10v28h-10zM162 308h10v14h-10zM202 308h10v14h-10zM232 308h10v14h-10zM502 308h10v14h-10zM512 308h10v28h-10zM132 322h10v14h-10zM182 322h10v14h-10zM372 322h10v14h-10zM132 336h10v28h-10zM282 336h10v28h-10zM362 336h10v14h-10zM392 336h10v28h-10zM442 336h10v14h-10zM142 350h10v14h-10zM182 350h10v14h-10zM212 350h10v28h-10zM362 350h10v14h-10zM442 350h10v14h-10zM512 350h10v14h-10zM182 364h10v28h-10zM262 364h10v14h-10zM432 364h10v14h-10zM512 364h10v14h-10zM352 378h10v28h-10zM412 378h10v14h-10zM72 392h10v14h-10zM112 392h10v14h-10zM392 392h10v28h-10zM142 406h10v14h-10zM362 406h10v14h-10zM452 406h10v14h-10zM252 420h10v28h-10zM92 434h10v14h-10zM262 434h10v14h-10zM332 434h10v14h-10zM522 434h10v14h-10zM62 448h10v14h-10zM302 448h10v28h-10zM372 448h10v14h-10zM312 462h10v14h-10zM422 462h10v14h-10zM492 462h10v28h-10zM512 462h10v14h-10zM542 462h10v14h-10zM552 462h10v28h-10zM392 476h10v28h-10zM112 490h10v28h-10zM162 490h10v14h-10zM452 490h10v28h-10zM552 490h10v28h-10zM102 504h10v14h-10zM222 504h10v14h-10zM262 504h10v14h-10zM272 504h10v28h-10zM392 504h10v14h-10zM102 518h10v14h-10zM152 518h10v14h-10zM252 518h10v14h-10zM342 518h10v14h-10zM542 518h10v14h-10zM182 532h10v28h-10zM212 532h10v28h-10zM72 546h10v28h-10zM142 546h10v14h-10zM392 546h10v14h-10zM372 560h10v28h-10zM392 560h10v14h-10zM552 560h10v14h-10zM62 574h10v14h-10zM72 574h10v14h-10zM372 574h10v14h-10zM422 574h10v14h-10zM442 574h10v14h-10zM462 574h10v14h-10zM82 588h10v28h-10zM532 588h10v14h-10zM92 602h10v14h-10zM342 602h10v14h-10zM482 602h10v14h-10zM62 616h10v28h-10zM112 616h10v14h-10zM372 616h10v14h-10zM472 616h10v28h-10zM72 630h10v28h-10zM312 630h10v28h-10zM252 644h10v28h-10zM512 644h10v14h-10zM52 658h10v14h-10zM112 658h10v28h-10zM82 672h10v14h-10zM112 672h10v14h-10zM142 672h10v14h-10zM332 672h10v14h-10zM72 686h10v28h-10zM102 686h10v14h-10zM302 686h10v14h-10zM452 686h10v28h-10zM462 686h10v14h-10zM122 700h10v14h-10zM302 700h10v28h-10zM102 714h10v14h-10zM232 714h10v14h-10zM502 714h10v28h-10zM552 714h10v28h-10zM152 728h10v14h-10zM332 728h10v14h-10zM382 728h10v14h-10zM392 728h10v14h-10zM402 728h10v14h-10zM462 728h10v14h-10zM492 728h10v14h-10zM52 742h10v14h-10zM62 742h10v14h-10zM82 742h10v14h-10zM122 742h10v14h-10zM262 742h10v14h-10zM372 742h10v14h-10zM402 742h10v14h-10zM412 742h10v14h-10zM492 742h10v14h-10zM212 756h10v14h-10zM332 756h10v14h-10zM382 756h10v28h-10zM52 770h10v14h-10zM312 770h10v14h-10zM382 770h10v14h-10zM472 770h10v14h-10zM82 784h10v14h-10zM222 784h10v28h-10zM262 784h10v14h-10zM402 784h10v14h-10zM132 798h10v28h-10zM512 798h10v14h-10zM102 812h10v14h-10zM182 812h10v14h-10zM302 826h10v14h-10zM452 826h10v14h-10zM482 826h10v28h-10zM122 840h10v14h-10zM172 840h10v14h-10zM442 840h10v14h-10zM222 854h10v14h-10zM322 854h10v28h-10zM442 854h10v14h-10zM532 854h10v28h-10zM552 854h10v14h-10zM332 868h10v14h-10zM392 868h10v28h-10zM512 868h10v14h-10zM552 868h10v14h-10zM182 896h10v14h-10zM512 896h10v14h-10zM532 896h10v28h-10zM312 910h10v14h-10zM472 910h10v28h-10zM492 910h10v14h-10zM132 924h10v14h-10zM162 924h10v14h-10zM82 938h10v14h-10zM452 938h10v28h-10zM92 952h10v14h-10zM282 952h10v14h-10zM472 952h10v14h-10zM162 966h10v14h-10zM272 966h10v14h-10zM482 966h10v14h-10zM82 980h10v14h-10zM142 980h10v14h-10zM242 980h10v28h-10zM282 980h10v14h-10zM342 980h10v14h-10zM552 980h10v14h-10zM302 994h10v14h-10zM482 994h10v14h-10zM382 1008h10v28h-10zM442 1008h10v14h-10zM102 1022h10v14h-10zM162 1022h10v28h-10zM322 1022h10v14h-10zM422 1022h10v28h-10zM482 1022h10v14h-10zM542 1022h10v14h-10zM112 1036h10v28h-10zM192 1036h10v14h-10zM292 1036h10v14h-10zM372 1036h10v14h-10zM402 1036h10v14h-10zM552 1036h10v14h-10zM172 1050h10v28h-10zM142 1064h10v28h-10zM292 1064h10v14h-10zM502 1064h10v14h-10zM72 1078h10v28h-10zM242 1078h10v14h-10zM282 1078h10v14h-10zM292 1078h10v14h-10zM462 1078h10v14h-10zM122 1092h10v14h-10zM392 1092h10v14h-10zM92 1106h10v14h-10zM162 1106h10v14h-10zM192 1106h10v14h-10zM232 1106h10v14h-10zM322 1106h10v14h-10zM432 1106h10v14h-10zM492 1106h10v14h-10zM102 1120h10v14h-10zM152 1120h10v14h-10zM242 1120h10v14h-10zM302 1120h10v14h-10zM522 1120h10v14h-10zM102 1134h10v14h-10zM142 1134h10v28h-10zM182 1134h10v14h-10zM392 1134h10v14h-10zM472 1134h10v14h-10zM52 1148h10v28h-10zM492 1148h10v28h-10zM92 1162h10v14h-10zM302 1162h10v14h-10zM382 1162h10v14h-10zM62 1176h10v14h-10zM102 1176h10v14h-10zM132 1176h10v14h-10zM172 1176h10v14h-10zM232 1176h10v28h-10zM262 1176h10v14h-10zM312 1176h10v14h-10zM472 1176h10v14h-10zM492 1176h10v14h-10zM522 1176h10v28h-10zM342 1190h10v28h-10zM382 1190h10v14h-10zM142 1204h10v28h-10zM162 1204h10v14h-10zM242 1204h10v14h-10zM272 1204h10v14h-10zM152 1218h10v28h-10zM232 1218h10v28h-10zM462 1218h10v14h-10zM532 1218h10v14h-10zM352 1232h10v28h-10zM362 1232h10v14h-10zM382 1232h10v28h-10z"/>
<path fill="#cfc8b4" d="M332 84h10v14h-10zM352 84h10v28h-10zM462 84h10v28h-10zM502 84h10v28h-10zM552 84h10v14h-10zM82 98h10v14h-10zM102 98h10v28h-10zM172 98h10v14h-10zM432 98h10v28h-10zM502 98h10v28h-10zM92 112h10v28h-10zM72 126h10v14h-10zM132 126h10v14h-10zM172 126h10v28h-10zM452 126h10v14h-10zM492 126h10v28h-10zM62 140h10v14h-10zM112 140h10v28h-10zM182 140h10v28h-10zM212 140h10v28h-10zM352 140h10v28h-10zM402 140h10v14h-10zM492 140h10v14h-10zM422 154h10v14h-10zM432 154h10v14h-10zM482 154h10v14h-10zM492 154h10v28h-10zM232 168h10v28h-10zM292 168h10v28h-10zM312 168h10v14h-10zM402 168h10v14h-10zM432 168h10v14h-10zM102 182h10v14h-10zM342 182h10v14h-10zM382 182h10v14h-10zM402 182h10v14h-10zM62 196h10v14h-10zM122 196h10v14h-10zM512 196h10v28h-10zM102 210h10v14h-10zM292 210h10v28h-10zM312 210h10v14h-10zM442 210h10v14h-10zM492 210h10v14h-10zM552 210h10v14h-10zM332 238h10v14h-10zM382 238h10v14h-10zM422 238h10v14h-10zM442 238h10v14h-10zM122 252h10v14h-10zM552 252h10v28h-10zM62 266h10v14h-10zM72 266h10v28h-10zM102 266h10v28h-10zM132 266h10v14h-10zM482 266h10v14h-10zM492 266h10v14h-10zM532 266h10v14h-10zM92 280h10v14h-10zM112 280h10v14h-10zM402 280h10v14h-10zM442 280h10v14h-10zM502 280h10v28h-10zM552 280h10v28h-10zM112 294h10v28h-10zM532 294h10v14h-10zM542 294h10v14h-10zM142 308h10v14h-10zM212 308h10v14h-10zM432 308h10v28h-10zM472 308h10v14h-10zM52 322h10v14h-10zM232 322h10v14h-10zM522 322h10v28h-10zM292 336h10v14h-10zM462 336h10v14h-10zM52 350h10v28h-10zM192 350h10v28h-10zM252 350h10v14h-10zM302 350h10v14h-10zM432 350h10v14h-10zM462 350h10v28h-10zM122 364h10v14h-10zM482 364h10v14h-10zM552 364h10v14h-10zM112 378h10v28h-10zM542 378h10v14h-10zM452 392h10v14h-10zM62 406h10v14h-10zM82 406h10v28h-10zM222 406h10v14h-10zM432 406h10v14h-10zM462 406h10v14h-10zM472 406h10v28h-10zM522 406h10v14h-10zM532 406h10v14h-10zM102 420h10v14h-10zM472 420h10v14h-10zM372 434h10v14h-10zM452 434h10v14h-10zM502 434h10v14h-10zM92 448h10v14h-10zM162 448h10v14h-10zM252 448h10v28h-10zM272 448h10v14h-10zM402 448h10v14h-10zM452 448h10v14h-10zM132 462h10v28h-10zM262 462h10v14h-10zM362 462h10v14h-10zM472 462h10v14h-10zM522 462h10v14h-10zM272 476h10v28h-10zM332 476h10v28h-10zM432 476h10v14h-10zM92 490h10v14h-10zM252 490h10v14h-10zM272 490h10v14h-10zM522 490h10v14h-10zM152 504h10v14h-10zM182 504h10v14h-10zM192 504h10v14h-10zM432 504h10v14h-10zM442 504h10v14h-10zM512 504h10v14h-10zM542 504h10v14h-10zM162 518h10v14h-10zM182 518h10v14h-10zM192 518h10v28h-10zM242 518h10v14h-10zM292 518h10v28h-10zM432 518h10v14h-10zM172 532h10v28h-10zM232 532h10v14h-10zM512 532h10v14h-10zM552 532h10v14h-10zM82 546h10v28h-10zM102 546h10v28h-10zM202 546h10v28h-10zM232 546h10v14h-10zM492 546h10v28h-10zM62 560h10v14h-10zM82 560h10v28h-10zM152 560h10v14h-10zM362 560h10v28h-10zM52 574h10v14h-10zM142 574h10v28h-10zM162 574h10v14h-10zM202 574h10v14h-10zM242 574h10v14h-10zM282 574h10v28h-10zM302 574h10v14h-10zM502 574h10v28h-10zM172 588h10v14h-10zM192 588h10v14h-10zM222 588h10v14h-10zM492 588h10v28h-10zM52 602h10v14h-10zM132 602h10v14h-10zM272 602h10v14h-10zM312 602h10v14h-10zM362 602h10v14h-10zM442 602h10v14h-10zM72 616h10v14h-10zM232 616h10v14h-10zM62 630h10v14h-10zM142 630h10v14h-10zM382 630h10v14h-10zM102 644h10v28h-10zM132 644h10v14h-10zM262 644h10v14h-10zM312 644h10v14h-10zM392 644h10v14h-10zM542 644h10v14h-10zM102 658h10v14h-10zM162 658h10v14h-10zM212 658h10v28h-10zM352 658h10v14h-10zM462 658h10v14h-10zM482 658h10v14h-10zM502 658h10v14h-10zM322 672h10v14h-10zM392 672h10v14h-10zM452 672h10v14h-10zM382 700h10v14h-10zM392 700h10v14h-10zM542 700h10v14h-10zM52 714h10v14h-10zM342 714h10v14h-10zM492 714h10v14h-10zM202 728h10v14h-10zM242 728h10v14h-10zM452 728h10v14h-10zM302 742h10v28h-10zM482 742h10v14h-10zM522 742h10v14h-10zM112 756h10v28h-10zM152 756h10v28h-10zM282 756h10v14h-10zM482 756h10v14h-10zM92 770h10v28h-10zM132 770h10v14h-10zM202 770h10v28h-10zM342 770h10v14h-10zM362 770h10v14h-10zM542 770h10v14h-10zM72 784h10v14h-10zM112 784h10v28h-10zM302 784h10v14h-10zM382 784h10v14h-10zM72 798h10v14h-10zM102 798h10v14h-10zM242 798h10v14h-10zM282 798h10v28h-10zM292 798h10v28h-10zM312 798h10v14h-10zM362 812h10v14h-10zM542 812h10v14h-10zM162 826h10v28h-10zM362 826h10v14h-10zM102 840h10v14h-10zM132 840h10v14h-10zM182 840h10v14h-10zM202 840h10v14h-10zM232 840h10v14h-10zM242 840h10v28h-10zM402 840h10v14h-10zM362 854h10v14h-10zM402 854h10v14h-10zM432 854h10v28h-10zM462 854h10v14h-10zM72 868h10v28h-10zM112 868h10v28h-10zM352 868h10v28h-10zM402 868h10v14h-10zM472 868h10v14h-10zM522 868h10v14h-10zM342 882h10v14h-10zM132 896h10v14h-10zM272 896h10v28h-10zM402 896h10v14h-10zM462 896h10v14h-10zM112 910h10v14h-10zM132 910h10v14h-10zM192 910h10v14h-10zM392 910h10v14h-10zM62 924h10v14h-10zM72 938h10v28h-10zM312 938h10v14h-10zM232 952h10v28h-10zM352 952h10v14h-10zM362 952h10v14h-10zM392 952h10v14h-10zM412 952h10v28h-10zM202 966h10v28h-10zM52 980h10v14h-10zM62 980h10v28h-10zM72 980h10v14h-10zM462 980h10v14h-10zM502 980h10v14h-10zM152 994h10v28h-10zM182 994h10v14h-10zM232 994h10v28h-10zM452 994h10v14h-10zM462 994h10v14h-10zM492 994h10v14h-10zM102 1008h10v28h-10zM152 1008h10v14h-10zM372 1008h10v28h-10zM492 1008h10v28h-10zM502 1008h10v14h-10zM302 1022h10v14h-10zM242 1036h10v14h-10zM262 1036h10v14h-10zM302 1036h10v14h-10zM422 1036h10v14h-10zM472 1036h10v14h-10zM62 1050h10v28h-10zM232 1050h10v28h-10zM312 1050h10v14h-10zM402 1050h10v14h-10zM72 1064h10v14h-10zM122 1064h10v28h-10zM162 1064h10v28h-10zM282 1064h10v14h-10zM322 1064h10v14h-10zM112 1078h10v14h-10zM132 1078h10v14h-10zM202 1078h10v28h-10zM262 1078h10v14h-10zM342 1078h10v14h-10zM72 1092h10v14h-10zM182 1092h10v14h-10zM232 1092h10v28h-10zM302 1092h10v28h-10zM342 1092h10v14h-10zM382 1092h10v14h-10zM462 1092h10v14h-10zM82 1106h10v14h-10zM452 1106h10v14h-10zM532 1106h10v14h-10zM272 1120h10v28h-10zM402 1120h10v14h-10zM482 1120h10v14h-10zM52 1134h10v28h-10zM302 1134h10v14h-10zM532 1134h10v14h-10zM92 1148h10v28h-10zM112 1148h10v14h-10zM152 1148h10v14h-10zM212 1148h10v14h-10zM342 1148h10v14h-10zM112 1162h10v14h-10zM252 1162h10v28h-10zM272 1162h10v28h-10zM92 1176h10v14h-10zM442 1176h10v14h-10zM232 1190h10v28h-10zM262 1190h10v28h-10zM322 1190h10v14h-10zM392 1190h10v14h-10zM502 1190h10v14h-10zM512 1204h10v14h-10zM162 1218h10v14h-10zM182 1218h10v14h-10zM432 1218h10v14h-10zM132 1232h10v14h-10zM252 1232h10v14h-10zM272 1232h10v14h-10zM292 1232h10v14h-10zM462 1232h10v28h-10z"/>
<path fill="#bcae8e" d="M372 84h10v14h-10zM92 98h10v28h-10zM182 98h10v14h-10zM252 98h10v28h-10zM262 98h10v14h-10zM52 112h10v28h-10zM252 112h10v14h-10zM422 112h10v14h-10zM202 126h10v14h-10zM222 126h10v14h-10zM352 126h10v14h-10zM102 140h10v28h-10zM282 140h10v14h-10zM52 168h10v28h-10zM162 168h10v14h-10zM262 168h10v14h-10zM342 168h10v28h-10zM382 168h10v14h-10zM472 168h10v14h-10zM82 182h10v28h-10zM202 182h10v14h-10zM232 182h10v14h-10zM552 182h10v14h-10zM52 196h10v14h-10zM182 196h10v14h-10zM302 196h10v28h-10zM362 196h10v28h-10zM412 196h10v14h-10zM62 210h10v28h-10zM72 210h10v28h-10zM202 210h10v14h-10zM232 210h10v14h-10zM72 224h10v28h-10zM122 224h10v14h-10zM152 224h10v14h-10zM162 224h10v14h-10zM202 224h10v28h-10zM222 224h10v14h-10zM242 224h10v28h-10zM252 224h10v28h-10zM312 224h10v28h-10zM422 224h10v28h-10zM92 238h10v14h-10zM182 238h10v14h-10zM192 238h10v14h-10zM412 238h10v14h-10zM512 238h10v14h-10zM132 252h10v14h-10zM292 252h10v28h-10zM332 252h10v14h-10zM512 252h10v14h-10zM162 266h10v14h-10zM252 266h10v28h-10zM392 266h10v28h-10zM252 280h10v14h-10zM292 280h10v14h-10zM392 280h10v14h-10zM532 280h10v14h-10zM72 294h10v14h-10zM92 294h10v14h-10zM132 294h10v14h-10zM152 294h10v28h-10zM172 294h10v28h-10zM222 294h10v14h-10zM242 294h10v28h-10zM252 294h10v14h-10zM272 294h10v14h-10zM292 294h10v14h-10zM332 294h10v28h-10zM422 294h10v14h-10zM512 294h10v14h-10zM52 308h10v28h-10zM132 308h10v28h-10zM192 308h10v14h-10zM272 308h10v28h-10zM452 308h10v14h-10zM152 322h10v14h-10zM352 322h10v14h-10zM542 322h10v14h-10zM82 336h10v28h-10zM92 336h10v14h-10zM172 336h10v14h-10zM432 336h10v14h-10zM72 350h10v14h-10zM252 364h10v14h-10zM272 364h10v14h-10zM362 364h10v28h-10zM462 364h10v14h-10zM62 378h10v28h-10zM92 378h10v14h-10zM172 378h10v14h-10zM342 378h10v14h-10zM82 392h10v14h-10zM142 392h10v14h-10zM182 392h10v14h-10zM202 392h10v28h-10zM352 392h10v14h-10zM382 392h10v14h-10zM542 392h10v28h-10zM52 406h10v28h-10zM282 406h10v14h-10zM492 406h10v14h-10zM542 406h10v28h-10zM82 420h10v14h-10zM142 420h10v14h-10zM162 420h10v28h-10zM212 420h10v14h-10zM222 420h10v14h-10zM362 420h10v28h-10zM442 420h10v28h-10zM182 434h10v14h-10zM302 434h10v14h-10zM422 434h10v28h-10zM442 434h10v14h-10zM462 434h10v14h-10zM552 434h10v14h-10zM102 448h10v14h-10zM122 448h10v14h-10zM172 448h10v28h-10zM282 448h10v14h-10zM292 448h10v14h-10zM382 448h10v14h-10zM442 448h10v14h-10zM512 448h10v14h-10zM112 462h10v14h-10zM152 462h10v28h-10zM342 462h10v14h-10zM432 462h10v28h-10zM82 476h10v14h-10zM302 476h10v28h-10zM362 476h10v14h-10zM372 476h10v14h-10zM452 476h10v14h-10zM102 490h10v14h-10zM192 490h10v14h-10zM212 490h10v14h-10zM322 490h10v14h-10zM332 490h10v14h-10zM352 504h10v14h-10zM492 504h10v28h-10zM262 518h10v14h-10zM482 518h10v14h-10zM502 518h10v14h-10zM402 532h10v28h-10zM542 532h10v14h-10zM182 546h10v14h-10zM262 546h10v14h-10zM532 546h10v14h-10zM72 560h10v14h-10zM102 560h10v14h-10zM112 560h10v28h-10zM122 560h10v28h-10zM502 560h10v28h-10zM262 574h10v28h-10zM292 574h10v28h-10zM312 574h10v14h-10zM432 574h10v28h-10zM512 574h10v14h-10zM102 588h10v14h-10zM182 588h10v14h-10zM362 588h10v14h-10zM392 588h10v14h-10zM402 588h10v28h-10zM422 588h10v14h-10zM552 588h10v28h-10zM62 602h10v28h-10zM162 602h10v28h-10zM222 602h10v28h-10zM232 602h10v14h-10zM242 616h10v28h-10zM392 616h10v14h-10zM92 630h10v14h-10zM212 630h10v14h-10zM242 630h10v28h-10zM272 630h10v14h-10zM352 630h10v14h-10zM392 630h10v14h-10zM482 630h10v28h-10zM292 644h10v14h-10zM482 644h10v14h-10zM532 644h10v28h-10zM82 658h10v14h-10zM152 658h10v28h-10zM292 658h10v28h-10zM372 658h10v14h-10zM402 658h10v14h-10zM492 658h10v14h-10zM272 672h10v14h-10zM342 672h10v14h-10zM492 672h10v14h-10zM62 686h10v14h-10zM202 686h10v14h-10zM212 686h10v14h-10zM362 686h10v28h-10zM392 686h10v28h-10zM62 700h10v14h-10zM102 700h10v14h-10zM262 700h10v14h-10zM452 700h10v14h-10zM462 700h10v14h-10zM522 700h10v28h-10zM262 714h10v14h-10zM312 714h10v28h-10zM422 714h10v14h-10zM522 714h10v14h-10zM312 728h10v28h-10zM432 728h10v28h-10zM522 728h10v14h-10zM212 742h10v14h-10zM502 742h10v14h-10zM62 756h10v14h-10zM82 756h10v28h-10zM122 756h10v28h-10zM132 756h10v14h-10zM172 756h10v28h-10zM292 756h10v14h-10zM422 756h10v14h-10zM502 756h10v14h-10zM552 756h10v14h-10zM192 770h10v14h-10zM422 770h10v28h-10zM502 770h10v14h-10zM292 784h10v14h-10zM332 784h10v28h-10zM442 784h10v28h-10zM522 784h10v14h-10zM542 784h10v14h-10zM82 798h10v28h-10zM112 798h10v28h-10zM412 798h10v14h-10zM272 812h10v28h-10zM332 812h10v14h-10zM352 812h10v28h-10zM522 812h10v14h-10zM532 812h10v28h-10zM172 826h10v28h-10zM272 826h10v14h-10zM282 826h10v14h-10zM342 826h10v14h-10zM442 826h10v14h-10zM512 826h10v14h-10zM92 840h10v14h-10zM212 840h10v14h-10zM302 840h10v14h-10zM372 840h10v28h-10zM482 840h10v14h-10zM492 840h10v14h-10zM92 854h10v14h-10zM152 854h10v14h-10zM212 854h10v28h-10zM372 854h10v14h-10zM422 854h10v28h-10zM292 868h10v14h-10zM302 868h10v14h-10zM322 868h10v14h-10zM482 868h10v28h-10zM312 882h10v28h-10zM332 882h10v14h-10zM352 882h10v14h-10zM382 882h10v28h-10zM492 882h10v14h-10zM162 896h10v14h-10zM202 896h10v14h-10zM222 896h10v28h-10zM422 896h10v14h-10zM432 896h10v14h-10zM142 910h10v14h-10zM372 910h10v14h-10zM452 910h10v14h-10zM542 910h10v28h-10zM182 924h10v28h-10zM192 924h10v28h-10zM262 924h10v28h-10zM302 924h10v28h-10zM492 924h10v14h-10zM502 924h10v14h-10zM532 924h10v14h-10zM542 924h10v14h-10zM162 938h10v28h-10zM282 938h10v14h-10zM382 938h10v14h-10zM432 938h10v14h-10zM272 952h10v28h-10zM382 952h10v28h-10zM522 952h10v14h-10zM292 966h10v28h-10zM342 966h10v28h-10zM102 980h10v28h-10zM172 980h10v14h-10zM252 980h10v14h-10zM262 980h10v28h-10zM322 980h10v14h-10zM372 980h10v28h-10zM392 980h10v14h-10zM52 994h10v14h-10zM62 994h10v14h-10zM142 994h10v14h-10zM172 994h10v14h-10zM242 994h10v28h-10zM362 994h10v14h-10zM472 994h10v14h-10zM62 1008h10v14h-10zM92 1008h10v28h-10zM182 1008h10v28h-10zM232 1008h10v14h-10zM252 1008h10v28h-10zM262 1008h10v14h-10zM312 1008h10v14h-10zM82 1022h10v14h-10zM172 1022h10v14h-10zM502 1022h10v28h-10zM72 1036h10v14h-10zM152 1036h10v14h-10zM162 1036h10v14h-10zM212 1036h10v14h-10zM252 1036h10v14h-10zM292 1050h10v28h-10zM442 1050h10v14h-10zM502 1050h10v14h-10zM152 1064h10v14h-10zM172 1064h10v14h-10zM202 1064h10v14h-10zM272 1064h10v14h-10zM392 1064h10v14h-10zM472 1064h10v14h-10zM512 1064h10v28h-10zM252 1078h10v14h-10zM382 1078h10v14h-10zM402 1078h10v14h-10zM412 1078h10v14h-10zM502 1078h10v14h-10zM92 1092h10v14h-10zM142 1092h10v28h-10zM172 1106h10v14h-10zM382 1106h10v14h-10zM542 1106h10v14h-10zM132 1120h10v14h-10zM352 1120h10v28h-10zM422 1120h10v14h-10zM452 1120h10v14h-10zM472 1120h10v14h-10zM172 1134h10v14h-10zM212 1134h10v14h-10zM232 1134h10v14h-10zM412 1134h10v14h-10zM102 1148h10v14h-10zM482 1148h10v14h-10zM62 1162h10v28h-10zM102 1162h10v14h-10zM222 1162h10v14h-10zM242 1162h10v14h-10zM422 1162h10v14h-10zM202 1176h10v14h-10zM272 1176h10v14h-10zM392 1176h10v14h-10zM412 1176h10v14h-10zM432 1176h10v28h-10zM482 1176h10v28h-10zM162 1190h10v14h-10zM442 1190h10v14h-10zM452 1190h10v14h-10zM232 1204h10v14h-10zM262 1204h10v14h-10zM332 1204h10v14h-10zM432 1204h10v14h-10zM72 1218h10v14h-10zM82 1218h10v28h-10zM262 1218h10v14h-10zM292 1218h10v28h-10zM392 1218h10v28h-10zM452 1218h10v14h-10zM82 1232h10v14h-10zM532 1232h10v14h-10zM552 1232h10v14h-10z"/>
<path fill="#a99d88" d="M402 84h10v14h-10zM472 84h10v14h-10zM512 84h10v28h-10zM222 98h10v28h-10zM322 112h10v28h-10zM352 112h10v14h-10zM452 112h10v28h-10zM232 126h10v14h-10zM322 126h10v14h-10zM262 140h10v14h-10zM382 140h10v28h-10zM352 154h10v14h-10zM442 168h10v14h-10zM452 168h10v14h-10zM482 182h10v28h-10zM522 182h10v14h-10zM162 196h10v14h-10zM262 196h10v14h-10zM282 196h10v14h-10zM282 210h10v28h-10zM502 210h10v28h-10zM52 224h10v14h-10zM172 224h10v28h-10zM72 238h10v28h-10zM202 238h10v14h-10zM252 238h10v28h-10zM282 252h10v14h-10zM532 252h10v14h-10zM192 266h10v28h-10zM522 280h10v14h-10zM182 294h10v28h-10zM302 294h10v14h-10zM152 308h10v28h-10zM222 308h10v14h-10zM252 308h10v14h-10zM332 308h10v28h-10zM172 322h10v14h-10zM382 322h10v14h-10zM442 322h10v14h-10zM492 322h10v28h-10zM122 336h10v14h-10zM322 336h10v14h-10zM472 336h10v14h-10zM72 364h10v28h-10zM232 364h10v14h-10zM532 364h10v14h-10zM362 378h10v14h-10zM322 392h10v28h-10zM362 392h10v14h-10zM322 406h10v14h-10zM332 420h10v14h-10zM492 420h10v14h-10zM472 434h10v14h-10zM222 448h10v14h-10zM542 448h10v14h-10zM132 476h10v28h-10zM142 476h10v14h-10zM472 476h10v14h-10zM162 504h10v28h-10zM142 518h10v14h-10zM282 546h10v14h-10zM52 560h10v14h-10zM232 560h10v14h-10zM322 560h10v14h-10zM452 560h10v14h-10zM472 560h10v28h-10zM352 574h10v14h-10zM282 588h10v28h-10zM152 602h10v14h-10zM192 602h10v14h-10zM532 602h10v14h-10zM52 644h10v14h-10zM142 644h10v14h-10zM352 644h10v28h-10zM122 658h10v14h-10zM392 658h10v28h-10zM442 658h10v14h-10zM472 658h10v28h-10zM292 672h10v14h-10zM312 700h10v14h-10zM322 700h10v28h-10zM92 714h10v28h-10zM252 714h10v14h-10zM82 728h10v28h-10zM122 728h10v14h-10zM172 728h10v14h-10zM352 728h10v14h-10zM102 742h10v14h-10zM192 742h10v28h-10zM202 742h10v14h-10zM242 742h10v14h-10zM442 742h10v14h-10zM192 756h10v28h-10zM222 756h10v14h-10zM162 770h10v14h-10zM492 770h10v14h-10zM432 784h10v28h-10zM482 784h10v14h-10zM212 798h10v14h-10zM402 798h10v14h-10zM192 812h10v14h-10zM222 812h10v28h-10zM442 812h10v14h-10zM532 826h10v14h-10zM112 854h10v14h-10zM192 854h10v14h-10zM472 854h10v14h-10zM62 882h10v14h-10zM182 882h10v14h-10zM362 882h10v14h-10zM392 882h10v14h-10zM82 896h10v14h-10zM332 896h10v14h-10zM362 896h10v28h-10zM352 910h10v14h-10zM522 910h10v28h-10zM102 924h10v14h-10zM412 938h10v14h-10zM62 952h10v28h-10zM152 952h10v28h-10zM432 952h10v28h-10zM72 966h10v14h-10zM402 980h10v14h-10zM122 994h10v14h-10zM222 994h10v14h-10zM402 994h10v14h-10zM192 1008h10v14h-10zM202 1008h10v14h-10zM222 1008h10v14h-10zM272 1008h10v14h-10zM282 1008h10v14h-10zM292 1008h10v14h-10zM412 1008h10v28h-10zM222 1022h10v28h-10zM202 1036h10v14h-10zM362 1036h10v28h-10zM472 1050h10v14h-10zM492 1050h10v14h-10zM262 1064h10v28h-10zM222 1078h10v14h-10zM322 1078h10v14h-10zM532 1078h10v14h-10zM262 1092h10v14h-10zM522 1106h10v28h-10zM252 1120h10v14h-10zM292 1162h10v14h-10zM162 1176h10v14h-10zM362 1176h10v14h-10zM352 1204h10v14h-10zM422 1204h10v28h-10zM552 1204h10v14h-10zM412 1218h10v14h-10zM442 1232h10v14h-10z"/>
<path fill="#dfd5b2" d="M272 98h10v14h-10zM492 98h10v14h-10zM242 112h10v14h-10zM262 126h10v28h-10zM312 140h10v14h-10zM342 140h10v14h-10zM552 140h10v14h-10zM102 154h10v14h-10zM192 154h10v28h-10zM212 154h10v14h-10zM242 154h10v14h-10zM402 154h10v14h-10zM102 168h10v14h-10zM352 168h10v28h-10zM482 168h10v14h-10zM172 182h10v14h-10zM292 182h10v14h-10zM352 182h10v28h-10zM362 182h10v14h-10zM132 196h10v14h-10zM422 196h10v14h-10zM532 196h10v28h-10zM262 210h10v14h-10zM522 210h10v14h-10zM302 224h10v14h-10zM322 224h10v14h-10zM432 224h10v14h-10zM62 238h10v14h-10zM122 238h10v14h-10zM142 238h10v14h-10zM212 238h10v14h-10zM82 252h10v14h-10zM232 252h10v14h-10zM272 252h10v14h-10zM442 252h10v14h-10zM452 252h10v14h-10zM482 252h10v14h-10zM182 266h10v14h-10zM292 266h10v14h-10zM332 266h10v14h-10zM422 266h10v14h-10zM432 266h10v14h-10zM462 266h10v28h-10zM232 280h10v28h-10zM272 280h10v14h-10zM312 280h10v14h-10zM422 280h10v14h-10zM452 280h10v14h-10zM192 294h10v28h-10zM212 294h10v14h-10zM232 294h10v14h-10zM262 294h10v28h-10zM402 294h10v14h-10zM82 308h10v28h-10zM92 308h10v14h-10zM122 308h10v14h-10zM242 308h10v14h-10zM82 322h10v14h-10zM92 322h10v14h-10zM312 322h10v14h-10zM452 322h10v14h-10zM152 336h10v14h-10zM332 336h10v14h-10zM422 336h10v14h-10zM532 350h10v28h-10zM172 364h10v28h-10zM332 364h10v14h-10zM372 364h10v28h-10zM402 364h10v14h-10zM122 378h10v14h-10zM262 378h10v14h-10zM322 378h10v14h-10zM412 392h10v14h-10zM432 392h10v14h-10zM372 406h10v14h-10zM262 420h10v14h-10zM432 420h10v28h-10zM522 420h10v14h-10zM152 434h10v14h-10zM222 434h10v14h-10zM312 448h10v28h-10zM392 448h10v14h-10zM472 448h10v14h-10zM172 462h10v14h-10zM252 462h10v14h-10zM352 462h10v14h-10zM72 476h10v14h-10zM112 476h10v28h-10zM232 476h10v14h-10zM292 476h10v14h-10zM342 476h10v14h-10zM142 490h10v14h-10zM412 490h10v14h-10zM242 504h10v14h-10zM502 504h10v14h-10zM192 532h10v28h-10zM272 532h10v14h-10zM292 532h10v28h-10zM442 532h10v14h-10zM492 532h10v28h-10zM132 560h10v28h-10zM222 560h10v14h-10zM252 560h10v14h-10zM462 560h10v14h-10zM122 574h10v14h-10zM392 574h10v14h-10zM182 602h10v14h-10zM52 616h10v14h-10zM342 616h10v14h-10zM502 616h10v28h-10zM512 616h10v14h-10zM102 630h10v14h-10zM132 630h10v14h-10zM362 630h10v28h-10zM422 630h10v14h-10zM72 658h10v28h-10zM272 658h10v14h-10zM252 672h10v14h-10zM362 672h10v28h-10zM502 672h10v14h-10zM512 672h10v28h-10zM312 686h10v14h-10zM532 686h10v14h-10zM92 700h10v28h-10zM222 700h10v14h-10zM282 714h10v14h-10zM382 714h10v14h-10zM392 714h10v28h-10zM92 728h10v14h-10zM142 742h10v14h-10zM162 742h10v28h-10zM372 756h10v14h-10zM472 756h10v28h-10zM512 756h10v14h-10zM102 770h10v28h-10zM352 770h10v14h-10zM532 770h10v14h-10zM212 784h10v14h-10zM342 798h10v14h-10zM372 798h10v28h-10zM92 812h10v28h-10zM342 812h10v14h-10zM492 826h10v14h-10zM222 840h10v14h-10zM382 840h10v14h-10zM432 840h10v14h-10zM542 840h10v28h-10zM52 854h10v14h-10zM162 854h10v14h-10zM522 854h10v14h-10zM52 882h10v28h-10zM252 896h10v28h-10zM262 896h10v28h-10zM282 910h10v14h-10zM402 910h10v14h-10zM212 924h10v14h-10zM462 924h10v14h-10zM52 938h10v14h-10zM322 938h10v28h-10zM552 938h10v14h-10zM212 952h10v14h-10zM262 952h10v14h-10zM302 952h10v14h-10zM332 966h10v14h-10zM392 966h10v14h-10zM422 966h10v14h-10zM492 966h10v28h-10zM202 980h10v14h-10zM492 980h10v14h-10zM502 994h10v14h-10zM132 1008h10v28h-10zM542 1008h10v14h-10zM292 1022h10v14h-10zM382 1036h10v28h-10zM462 1036h10v14h-10zM252 1050h10v28h-10zM112 1064h10v28h-10zM192 1064h10v28h-10zM312 1064h10v14h-10zM462 1064h10v28h-10zM542 1064h10v14h-10zM452 1078h10v14h-10zM512 1078h10v14h-10zM102 1092h10v28h-10zM222 1092h10v14h-10zM322 1092h10v28h-10zM422 1092h10v14h-10zM552 1092h10v14h-10zM112 1106h10v28h-10zM122 1106h10v14h-10zM312 1106h10v14h-10zM282 1120h10v28h-10zM392 1120h10v28h-10zM442 1120h10v14h-10zM312 1134h10v14h-10zM502 1134h10v14h-10zM412 1148h10v14h-10zM182 1162h10v14h-10zM492 1162h10v14h-10zM82 1204h10v28h-10zM312 1204h10v14h-10zM412 1204h10v28h-10zM502 1204h10v14h-10zM112 1218h10v28h-10zM352 1218h10v28h-10zM62 1232h10v28h-10zM72 1232h10v14h-10zM222 1232h10v28h-10z"/>
<polygon points="52,820 330,820 330,1242 52,1242" fill="#a6a088" opacity="0.28"/>
<polygon points="83,662 191,662 191,755 83,755" fill="#d4c59c" opacity="0.35"/>
<polygon points="52,625 207,625 207,646 52,646" fill="#9d9078" opacity="0.4"/>
<polygon points="114,804 145,804 145,841 114,841" fill="#7f8068" opacity="0.5"/>
<polygon points="170,758 182,758 182,773 170,773" fill="#5a5644" opacity="0.7"/>
<polygon points="309,773 321,773 321,786 309,786" fill="#5a5644" opacity="0.7"/>
<polygon points="145,112 205,112 205,177 145,177" fill="#9a9a78" opacity="0.45"/>
<polygon points="182,205 247,205 247,270 182,270" fill="#a09e80" opacity="0.35"/>
<polygon points="52,330 89,330 89,386 52,386" fill="#a89c88" opacity="0.55"/>
<polygon points="122,335 205,335 205,390 122,390" fill="#ddd5c0" opacity="0.45"/>
<polygon points="52,390 108,390 108,455 52,455" fill="#d8d2c2" opacity="0.45"/>
<polygon points="214,540 250,535 250,620 214,625" fill="#7a604e" opacity="0.55"/>
<polygon points="52,540 230,540 230,820 52,820" fill="#b0a588" opacity="0.15"/>
<polygon points="240,84 295,84 292,420 250,540 232,540 238,300" fill="#d2cbb6" opacity="0.45"/>
<polygon points="400,84 475,84 475,225 430,230 395,250 380,200" fill="#cdc6b0" opacity="0.7"/>
<polygon points="150,380 230,370 240,540 150,540" fill="#cfc4a5" opacity="0.5"/>
<polygon points="240,545 300,535 357,540 360,600 353,636 300,640 240,610" fill="#806a58" opacity="0.75"/>
<polygon points="290,585 350,580 355,615 292,618" fill="#775c4c" opacity="0.45"/>
<polygon points="285,545 305,545 305,565 285,565" fill="#d8cfb0" opacity="0.6"/>
<polygon points="294,615 380,611 380,705 300,712" fill="#646049" opacity="0.8"/>
<polygon points="339,640 380,640 380,712 339,712" fill="#4c5440" opacity="0.75"/>
<polygon points="140,570 200,560 210,600 150,610" fill="#9d8f74" opacity="0.5"/>
<polygon points="52,240 95,240 95,285 52,290" fill="#a39781" opacity="0.8"/>
<polygon points="52,360 90,360 90,460 52,460" fill="#b3a585" opacity="0.6"/>
<polygon points="52,640 110,640 110,700 52,700" fill="#ad9f80" opacity="0.6"/>
<polygon points="154,835 197,835 197,882 154,882" fill="#6e6250" opacity="0.8"/>
<polygon points="100,800 135,800 135,840 100,840" fill="#8f8b72" opacity="0.7"/>
<polygon points="80,870 115,870 115,900 80,900" fill="#8b8a70" opacity="0.7"/>
<polygon points="137,1016 184,1016 184,1062 137,1085" fill="#d2cfdc" opacity="0.85"/>
<polygon points="164,1061 255,1061 255,1106 164,1106" fill="#cfcbdc" opacity="0.9"/>
<polygon points="271,1006 295,1006 295,1051 271,1051" fill="#d6dde6" opacity="0.9"/>
<polygon points="200,1106 230,1106 230,1116 200,1116" fill="#3a3a38" opacity="0.9"/>
<polygon points="198,1118 234,1118 234,1130 198,1130" fill="#e2e5ea" opacity="0.9"/>
<polygon points="180,1130 250,1130 235,1190 180,1190" fill="#9d9480" opacity="0.6"/>
<polygon points="52,1207 82,1207 82,1236 52,1236" fill="#dcdde8" opacity="0.9"/>
<polygon points="141,1197 157,1197 157,1219 141,1219" fill="#e0e0e0" opacity="0.9"/>
<polygon points="120,1170 150,1170 150,1200 120,1200" fill="#8c8a78" opacity="0.7"/>
<path d="M135,284 H335" stroke="#a09e92" stroke-width="5" fill="none"/>
<path d="M333,84 V285 L320,330" stroke="#aeab9e" stroke-width="5" fill="none"/>
<path d="M212,540 L209,800 L206,1000 L203,1140" stroke="#a9a699" stroke-width="4" fill="none"/>
<path d="M210,232 V283" stroke="#9f9c8c" stroke-width="3" fill="none"/>
<path d="M300,740 V910" stroke="#c9c5b5" stroke-width="3" fill="none" opacity="0.7"/>
<path d="M320,300 L285,420 L262,480 L245,548 L214,600" stroke="#d3cebf" stroke-width="5" fill="none" opacity="0.8"/>
<polygon points="513.0,84.0 769.7,84.0 737.3,130.0 699.5,186.7 661.6,238.0 626.5,278.6 591.4,327.2 553.5,375.9 546.7,390.0 511.9,443.6 485.0,497.3 470.0,530.0 435.0,528.8 449.3,493.3 470.6,440.0 492.0,386.5 520.5,333.0 534.7,269.0 541.8,226.3 541.8,173.0 534.7,119.6" fill="#6f6453"/>
<polygon points="536.0,84.0 769.7,84.0 745.0,118.0 712.0,165.0 690.0,200.0 664.0,232.0 600.0,228.0 543.0,232.0 541.8,173.0 534.7,119.6" fill="#9d9e86"/>
<polygon points="640,132 712,132 700,165 690,190 640,190" fill="#83846e" opacity="0.9"/>
<path d="M576,106 H750" stroke="#7a7c69" stroke-width="2" opacity="0.6"/>
<path d="M576,118 H741" stroke="#7a7c69" stroke-width="2" opacity="0.6"/>
<path d="M576,130 H731" stroke="#7a7c69" stroke-width="2" opacity="0.6"/>
<path d="M576,144 H722" stroke="#7a7c69" stroke-width="2" opacity="0.6"/>
<path d="M576,158 H713" stroke="#7a7c69" stroke-width="2" opacity="0.6"/>
<path d="M576,172 H703" stroke="#7a7c69" stroke-width="2" opacity="0.6"/>
<path d="M576,186 H694" stroke="#7a7c69" stroke-width="2" opacity="0.6"/>
<path d="M576,200 H684" stroke="#7a7c69" stroke-width="2" opacity="0.6"/>
<path d="M576,214 H673" stroke="#7a7c69" stroke-width="2" opacity="0.6"/>
<rect x="536" y="86" width="200" height="16" fill="#8fa592" opacity="0.85"/>
<polygon points="544,126 575,126 575,228 544,228" fill="#e8e2c6"/>
<rect x="576" y="140" width="34" height="26" fill="#efebd6"/>
<rect x="576" y="176" width="30" height="24" fill="#c9c6b0" opacity="0.8"/>
<rect x="532" y="105" width="14" height="26" fill="#3f3e33" opacity="0.8"/>
<rect x="660" y="215" width="10" height="12" fill="#2f3129" opacity="0.8"/>
<rect x="742" y="96" width="20" height="14" fill="#3a3c32" opacity="0.85"/>
<rect x="700" y="84" width="60" height="8" fill="#dcdcd0" opacity="0.7"/>
<polyline points="733.3,125.0 726.0,135.0 719.3,145.0 712.6,155.0 706.0,165.0 699.3,175.0 692.6,185.0 685.4,195.0 678.0,205.0 670.6,215.0 663.2,225.0 655.8,235.0 647.5,245.0 638.9,255.0 630.3,265.0 621.6,275.0 613.9,285.0 606.7,295.0 599.4,305.0 592.2,315.0 585.0,325.0 577.3,335.0 569.5,345.0 561.8,355.0 554.0,365.0 546.2,375.0 541.1,385.0 535.7,395.0 529.8,405.0 523.9,415.0 517.9,425.0 512.0,435.0 506.2,445.0 501.2,455.0 496.2,465.0 491.2,475.0 486.2,485.0" stroke="#394434" stroke-width="4" fill="none" opacity="0.9"/>
<polyline points="724.3,125.0 717.0,135.0 710.3,145.0 703.6,155.0 697.0,165.0 690.3,175.0 683.6,185.0 676.4,195.0 669.0,205.0 661.6,215.0 654.2,225.0 646.8,235.0 638.5,245.0 629.9,255.0 621.3,265.0 612.6,275.0 604.9,285.0 597.7,295.0 590.4,305.0 583.2,315.0 576.0,325.0 568.3,335.0 560.5,345.0 552.8,355.0 545.0,365.0 537.2,375.0 532.1,385.0 526.7,395.0 520.8,405.0 514.9,415.0 508.9,425.0 503.0,435.0 497.2,445.0 492.2,455.0 487.2,465.0 482.2,475.0 477.2,485.0" stroke="#394434" stroke-width="3.5" fill="none" opacity="0.8"/>
<polyline points="715.3,125.0 708.0,135.0 701.3,145.0 694.6,155.0 688.0,165.0 681.3,175.0 674.6,185.0 667.4,195.0 660.0,205.0 652.6,215.0 645.2,225.0 637.8,235.0 629.5,245.0 620.9,255.0 612.3,265.0 603.6,275.0 595.9,285.0 588.7,295.0 581.4,305.0 574.2,315.0 567.0,325.0 559.3,335.0 551.5,345.0 543.8,355.0 536.0,365.0 528.2,375.0 523.1,385.0 517.7,395.0 511.8,405.0 505.9,415.0 499.9,425.0 494.0,435.0 488.2,445.0 483.2,455.0 478.2,465.0 473.2,475.0 468.2,485.0" stroke="#394434" stroke-width="3" fill="none" opacity="0.7"/>
<clipPath id="lowclip"><polygon points="541.8,226.3 664.0,232.0 626.5,278.6 591.4,327.2 553.5,375.9 546.7,390.0 511.9,443.6 485.0,497.3 470.0,530.0 435.0,528.8 449.3,493.3 470.6,440.0 492.0,386.5 520.5,333.0 534.7,269.0"/></clipPath>
<path clip-path="url(#lowclip)" d="M565,220 L466,512 M593,220 L494,512 M621,220 L522,512 M649,220 L550,512 M430,264 L680,252 M430,298 L680,286 M430,332 L680,320 M430,366 L680,354 M430,400 L680,388 M430,434 L680,422 M430,468 L680,456 M430,502 L680,490" stroke="#9a907a" stroke-width="2.4" fill="none" opacity="0.75"/>
<rect x="553" y="334" width="18" height="24" fill="#2f3329" opacity="0.8"/>
<rect x="484" y="400" width="26" height="26" fill="#3a3d32" opacity="0.7"/>
<rect x="600" y="280" width="16" height="18" fill="#3a3d32" opacity="0.6"/>
<polygon points="476.0,94.0 528.0,94.0 534.0,119.6 538.0,173.0 538.0,226.3 534.7,269.0 520.5,333.0 492.0,386.5 470.6,440.0 449.3,493.3 435.0,528.8 413.7,532.4 356.8,525.3 303.4,511.0 271.4,486.1 267.8,457.7 285.6,415.0 310.5,354.5 321.2,304.6 342.5,283.3 392.3,258.4 431.5,229.9 474.0,224.0 474.0,155.0 474.0,119.6" fill="#575140"/>
<path d="M537,220 L438,512" stroke="#a39a80" stroke-width="4.5" fill="none"/>
<path d="M474,155 L528.6,193" stroke="#8c806a" stroke-width="4" fill="none"/>
<clipPath id="pondclip"><polygon points="476.0,94.0 528.0,94.0 534.0,119.6 538.0,173.0 538.0,226.3 534.7,269.0 520.5,333.0 492.0,386.5 470.6,440.0 449.3,493.3 435.0,528.8 413.7,532.4 356.8,525.3 303.4,511.0 271.4,486.1 267.8,457.7 285.6,415.0 310.5,354.5 321.2,304.6 342.5,283.3 392.3,258.4 431.5,229.9 474.0,224.0 474.0,155.0 474.0,119.6"/></clipPath>
<path clip-path="url(#pondclip)" d="M262,296 L545,286 M262,330 L545,320 M262,364 L545,354 M262,398 L545,388 M262,432 L545,422 M262,466 L545,456 M262,500 L545,490 M340.8,240 L286.8,540 M374.8,240 L320.8,540 M408.8,240 L354.8,540 M442.8,240 L388.8,540 M476.8,240 L422.8,540 M510.8,240 L456.8,540 M544.8,240 L490.8,540" stroke="#807a62" stroke-width="2.6" fill="none" opacity="0.8"/>
<rect x="441" y="84" width="33" height="74" fill="#cfd0cb"/>
<rect x="451" y="158" width="23" height="66" fill="#8f8570" opacity="0.8"/>
<rect x="529" y="120" width="15" height="105" fill="#d6cfb2" opacity="0.9"/>
<polygon points="300,330 318,330 300,470 284,470" fill="#d5cdb0" opacity="0.7"/>
<polygon points="769.7,83.0 769.7,89.4 737.3,130.0 699.5,186.7 661.6,238.0 626.5,278.6 591.4,327.2 553.5,375.9 546.7,390.0 514.9,443.6 488.0,497.3 463.9,550.9 445.1,604.5 429.0,658.2 418.3,700.0 400.0,743.6 390.0,790.0 385.0,815.0 392.0,828.0 410.0,830.0 410.0,830.0 422.0,800.0 429.0,778.0 441.0,757.0 456.0,722.0 462.2,700.0 473.0,658.2 491.7,604.5 515.9,550.9 540.0,497.3 572.2,443.6 601.7,390.0 629.0,340.8 656.0,300.0 688.6,251.6 724.0,197.5 759.0,154.0 791.0,89.4 792.0,83.0" fill="#dccb97"/>
<polygon points="769.7,83.0 769.7,89.4 737.3,130.0 699.5,186.7 661.6,238.0 626.5,278.6 591.4,327.2 553.5,375.9 546.7,390.0 514.9,443.6 488.0,497.3 463.9,550.9 445.1,604.5 429.0,658.2 418.3,700.0 400.0,743.6 390.0,790.0 385.0,815.0 392.0,828.0 410.0,830.0 410.0,830.0 399.1,828.0 396.8,815.0 403.4,790.0 417.8,743.6 435.0,700.0 445.7,658.2 462.8,604.5 483.7,550.9 507.8,497.3 536.7,443.6 567.6,390.0 574.8,375.9 609.1,327.2 643.2,278.6 675.2,238.0 712.1,186.7 750.1,130.0 777.8,89.4 778.2,83.0" fill="#fefcea"/>
<polygon points="345.0,1012.0 322.0,1018.0 299.4,1040.0 276.5,1087.0 251.1,1137.8 223.2,1188.7 202.9,1243.0 235.9,1243.0 243.5,1214.0 253.7,1188.7 266.4,1163.3 279.1,1137.8 289.2,1112.4 309.6,1087.0 318.6,1066.3 328.0,1050.8 340.4,1036.8 355.9,1032.2" fill="#d9c795"/>
<polygon points="345.0,1012.0 322.0,1018.0 299.4,1040.0 276.5,1087.0 251.1,1137.8 223.2,1188.7 202.9,1243.0 216.8,1243.0 236.0,1188.7 262.9,1137.8 290.4,1087.0 315.4,1040.0 332.5,1018.0 355.5,1012.0" fill="#f7f3dc"/>
<polygon points="318,800 342,795 380,800 400,830 410,860 425,880 405,885 360,872 330,860 320,830" fill="#6f6654" opacity="0.7"/>
<polygon points="345,808 392,812 405,850 380,868 350,850" fill="#5f5848" opacity="0.6"/>
<polygon points="346,880 430,878 460,905 476,935 440,945 380,946 346,940" fill="#a79f88" opacity="0.9"/>
<polygon points="326,946 409,944 418,1000 326,1000" fill="#bdbde0"/>
<polygon points="311,900 360,900 362,912 311,912" fill="#c4c2d8" opacity="0.8"/>
<polygon points="350,1000 440,998 448,1025 360,1030" fill="#ece8cf"/>
<rect x="405" y="1022" width="35" height="16" fill="#566250"/>
<polygon points="420,960 470,955 476,990 440,1000 420,998" fill="#b1aa92"/>
<polygon points="357,540 440,530 462,548 447,600 357,600" fill="#c8c6bc" opacity="0.8"/>
<polygon points="357,600 447,600 430,660 420,700 380,700 357,660" fill="#a6a08a" opacity="0.8"/>
<rect x="435" y="521" width="30" height="34" fill="#3e4036" opacity="0.9"/>
<rect x="382" y="676" width="33" height="45" fill="#3f5f45"/>
<rect x="375" y="739" width="18" height="47" fill="#3f5840"/>
<polygon points="234,672 285,668 300,705 345,708 375,712 375,734 300,742 298,768 236,766 222,720" fill="#b3b2e6"/>
<rect x="216" y="680" width="24" height="22" fill="#e6e6ec" opacity="0.8"/>
<rect x="296" y="698" width="20" height="18" fill="#e8e8f0" opacity="0.8"/>
<rect x="335" y="734" width="22" height="16" fill="#f2f2f0"/>
<rect x="402" y="600" width="40" height="27" fill="#557a42"/>
<rect x="415" y="606" width="10" height="12" fill="#d8dcc8"/>
<rect x="395" y="540" width="28" height="45" fill="#6c6b58" opacity="0.6"/>
<rect x="395" y="628" width="45" height="10" fill="#cfcde0" opacity="0.8"/>
<polygon points="792.0,83.0 791.0,89.4 759.0,154.0 724.0,197.5 688.6,251.6 656.0,300.0 629.0,340.8 601.7,390.0 572.2,443.6 540.0,497.3 515.9,550.9 491.7,604.5 473.0,658.2 462.2,700.0 456.0,722.0 441.0,757.0 429.0,778.0 422.0,800.0 410.0,830.0 412.0,845.0 419.8,868.7 435.3,884.2 447.7,899.7 458.6,915.3 469.4,930.8 484.0,944.0 486.0,950.0 479.0,956.0 478.6,973.2 475.5,995.0 462.0,1006.0 455.3,1012.0 455.3,1035.3 458.0,1054.0 449.0,1056.0 439.8,1044.6 408.7,1038.4 396.3,1047.7 380.7,1035.3 355.9,1032.2 340.4,1036.8 328.0,1050.8 318.6,1066.3 309.6,1087.0 289.2,1112.4 279.1,1137.8 266.4,1163.3 253.7,1188.7 243.5,1214.0 235.9,1243.0 824.0,1243.0 824.0,83.0" fill="url(#seagrad)"/>
<ellipse cx="800" cy="1225" rx="110" ry="80" fill="#3d7466" opacity="0.35"/>
<ellipse cx="545" cy="990" rx="40" ry="90" transform="rotate(28 545 990)" fill="#86a07c" opacity="0.24"/>
<ellipse cx="545" cy="700" rx="60" ry="38" transform="rotate(-20 545 700)" fill="#7c9a7e" opacity="0.1"/>
<ellipse cx="800" cy="665" rx="40" ry="65" fill="#457f6c" opacity="0.35"/>
<clipPath id="seaclip"><polygon points="792.0,83.0 791.0,89.4 759.0,154.0 724.0,197.5 688.6,251.6 656.0,300.0 629.0,340.8 601.7,390.0 572.2,443.6 540.0,497.3 515.9,550.9 491.7,604.5 473.0,658.2 462.2,700.0 456.0,722.0 441.0,757.0 429.0,778.0 422.0,800.0 410.0,830.0 412.0,845.0 419.8,868.7 435.3,884.2 447.7,899.7 458.6,915.3 469.4,930.8 484.0,944.0 486.0,950.0 479.0,956.0 478.6,973.2 475.5,995.0 462.0,1006.0 455.3,1012.0 455.3,1035.3 458.0,1054.0 449.0,1056.0 439.8,1044.6 408.7,1038.4 396.3,1047.7 380.7,1035.3 355.9,1032.2 340.4,1036.8 328.0,1050.8 318.6,1066.3 309.6,1087.0 289.2,1112.4 279.1,1137.8 266.4,1163.3 253.7,1188.7 243.5,1214.0 235.9,1243.0 824.0,1243.0 824.0,83.0"/></clipPath>
<polyline clip-path="url(#seaclip)" points="792.0,83.0 791.0,89.4 759.0,154.0 724.0,197.5 688.6,251.6 656.0,300.0 629.0,340.8 601.7,390.0 572.2,443.6 540.0,497.3 515.9,550.9 491.7,604.5 473.0,658.2 462.2,700.0 456.0,722.0 441.0,757.0 429.0,778.0 422.0,800.0 410.0,830.0 412.0,845.0 419.8,868.7 435.3,884.2 447.7,899.7 458.6,915.3 469.4,930.8 484.0,944.0 486.0,950.0 479.0,956.0 478.6,973.2 475.5,995.0 462.0,1006.0 455.3,1012.0 455.3,1035.3 458.0,1054.0 449.0,1056.0 439.8,1044.6 408.7,1038.4 396.3,1047.7 380.7,1035.3 355.9,1032.2 340.4,1036.8 328.0,1050.8 318.6,1066.3 309.6,1087.0 289.2,1112.4 279.1,1137.8 266.4,1163.3 253.7,1188.7 243.5,1214.0 235.9,1243.0" fill="none" stroke="#6a9c84" stroke-width="44" opacity="0.35" stroke-linejoin="round"/>
<ellipse cx="455" cy="890" rx="5" ry="9" fill="#cfe8dc" opacity="0.7"/>
<ellipse cx="462" cy="905" rx="4" ry="8" fill="#cfe8dc" opacity="0.7"/>
<ellipse cx="475" cy="930" rx="7" ry="6" fill="#cfe8dc" opacity="0.7"/>
<ellipse cx="484" cy="945" rx="6" ry="5" fill="#cfe8dc" opacity="0.7"/>
<ellipse cx="470" cy="962" rx="4" ry="7" fill="#cfe8dc" opacity="0.7"/>
<ellipse cx="458" cy="1040" rx="5" ry="8" fill="#cfe8dc" opacity="0.7"/>
<ellipse cx="447" cy="1052" rx="6" ry="4" fill="#cfe8dc" opacity="0.7"/>
<ellipse cx="441" cy="770" rx="4" ry="7" fill="#cfe8dc" opacity="0.7"/>
<ellipse cx="432" cy="788" rx="4" ry="6" fill="#cfe8dc" opacity="0.7"/>
<ellipse cx="418" cy="810" rx="3" ry="6" fill="#cfe8dc" opacity="0.7"/>
<ellipse cx="768" cy="150" rx="3" ry="5" fill="#cfe8dc" opacity="0.7"/>
<ellipse cx="775" cy="135" rx="3" ry="4" fill="#cfe8dc" opacity="0.7"/>
<rect x="817.5" y="84" width="4" height="1158" fill="#6d9888" opacity="0.7"/>
<polyline clip-path="url(#seaclip)" points="792.0,83.0 791.0,89.4 759.0,154.0 724.0,197.5 688.6,251.6 656.0,300.0 629.0,340.8 601.7,390.0 572.2,443.6 540.0,497.3 515.9,550.9 491.7,604.5 473.0,658.2 462.2,700.0 456.0,722.0 441.0,757.0 429.0,778.0 422.0,800.0 410.0,830.0 412.0,845.0 419.8,868.7 435.3,884.2 447.7,899.7 458.6,915.3 469.4,930.8 484.0,944.0 486.0,950.0 479.0,956.0 478.6,973.2 475.5,995.0 462.0,1006.0 455.3,1012.0 455.3,1035.3 458.0,1054.0 449.0,1056.0 439.8,1044.6 408.7,1038.4 396.3,1047.7 380.7,1035.3 355.9,1032.2 340.4,1036.8 328.0,1050.8 318.6,1066.3 309.6,1087.0 289.2,1112.4 279.1,1137.8 266.4,1163.3 253.7,1188.7 243.5,1214.0 235.9,1243.0" fill="none" stroke="#a8d2c0" stroke-width="16" opacity="0.45"/>
<polyline points="792.0,83.0 791.0,89.4 759.0,154.0 724.0,197.5 688.6,251.6 656.0,300.0 629.0,340.8 601.7,390.0 572.2,443.6 540.0,497.3 515.9,550.9 491.7,604.5 473.0,658.2 462.2,700.0 456.0,722.0 441.0,757.0 429.0,778.0 422.0,800.0 410.0,830.0 412.0,845.0 419.8,868.7 435.3,884.2 447.7,899.7 458.6,915.3 469.4,930.8 484.0,944.0 486.0,950.0 479.0,956.0 478.6,973.2 475.5,995.0 462.0,1006.0 455.3,1012.0 455.3,1035.3 458.0,1054.0 449.0,1056.0 439.8,1044.6 408.7,1038.4 396.3,1047.7 380.7,1035.3 355.9,1032.2 340.4,1036.8 328.0,1050.8 318.6,1066.3 309.6,1087.0 289.2,1112.4 279.1,1137.8 266.4,1163.3 253.7,1188.7 243.5,1214.0 235.9,1243.0" fill="none" stroke="#c2e2d4" stroke-width="5" opacity="0.5"/></g></g>
<g clip-path="url(#mapclip)"><polygon points="288.1,414.2 319.6,382.1 319.6,396.1 445,396.1 445,428.3 319.6,428.3 319.6,445.1" fill="#4880bf"/>
<polygon points="88.1,1179.7 120.2,1144.7 120.2,1163.3 203.2,1163.3 203.2,1196 120.2,1196 120.2,1211.9" fill="#4880bf"/>
<polygon points="181.4,928.2 306.8,928.2 306.8,912.7 339.6,944.2 306.8,975.1 306.8,959.7 181.4,959.7" fill="#c80000"/>
<polygon points="130.3,141.6 130.1,196.3 103.5,227.1" fill="#000"/>
<polygon points="130.3,141.6 156.1,226 130.1,196.3" fill="none" stroke="#000" stroke-width="2.6" stroke-linejoin="miter"/>
<text x="116.8" y="132.4" font-family="Liberation Sans, sans-serif" font-size="36" fill="#000" stroke="#000" stroke-width="0.9" textLength="28.5" lengthAdjust="spacingAndGlyphs">N</text>
<path d="M449.3,1218.1 H716.4" stroke="#000" stroke-width="3.6"/>
<path d="M449.3,1210 V1227 M481.5,1210 V1227 M515.8,1210 V1227 M548.8,1210 V1227 M582.9,1210 V1227 M615,1210 V1227 M649.4,1210 V1227 M682.1,1210 V1227 M716.4,1210 V1227" stroke="#000" stroke-width="2"/>
<text x="442" y="1196.6" font-family="Liberation Sans, sans-serif" font-weight="bold" font-size="23.5" fill="#000" textLength="13.5" lengthAdjust="spacingAndGlyphs">0</text>
<text x="491.5" y="1196.6" font-family="Liberation Sans, sans-serif" font-weight="bold" font-size="23.5" fill="#000" textLength="48.5" lengthAdjust="spacingAndGlyphs">0.25</text>
<text x="565.2" y="1196.6" font-family="Liberation Sans, sans-serif" font-weight="bold" font-size="23.5" fill="#000" textLength="34" lengthAdjust="spacingAndGlyphs">0.5</text>
<text x="708.5" y="1196.6" font-family="Liberation Sans, sans-serif" font-weight="bold" font-size="23.5" fill="#000" textLength="85" lengthAdjust="spacingAndGlyphs">1 Miles</text></g>

<rect x="51.8" y="84.2" width="771" height="1157.5" fill="none" stroke="#000" stroke-width="2.6"/>
<path d="M119.3,84 v-9 M370,84 v-9 M618.5,84 v-9 M117.3,1242 v9.5 M368.3,1242 v9.5 M617,1242 v9.5" stroke="#000" stroke-width="2.2"/>
<path d="M51.5,225.7 h-9 M51.5,523.6 h-9 M51.5,821.8 h-9 M51.5,1120.1 h-9" stroke="#000" stroke-width="2.2"/>
<path d="M823,252.6 h9 M823,550.7 h9 M823,848.8 h9 M823,1146 h9" stroke="#000" stroke-width="2.2"/>


<g id="chart">
<path d="M1225.3,88 V1242" stroke="#5a6f9a" stroke-width="1.1" opacity="0.7"/>
<path fill="#4a7ebb" d="M1185.1 1231.04h39.9v4.562h-39.9zM1168.8 1226.48h56.2v4.562h-56.2zM1161.6 1221.92h63.4v4.562h-63.4zM1165.2 1217.35h59.8v4.562h-59.8zM1191.5 1212.79h33.5v4.562h-33.5zM1218.7 1203.66h6.3v4.562h-6.3zM1209.6 1199.10h15.4v4.562h-15.4zM1168.8 1194.53h56.2v4.562h-56.2zM1208.7 1189.97h16.3v4.562h-16.3zM1168.8 1185.41h56.2v4.562h-56.2zM1187.9 1180.84h37.1v4.562h-37.1zM1199.6 1176.28h25.4v4.562h-25.4zM1203.3 1171.72h21.7v4.562h-21.7zM1170.6 1167.15h54.4v4.562h-54.4zM1195.1 1162.59h29.9v4.562h-29.9zM1197.8 1158.03h27.2v4.562h-27.2zM1164.3 1153.46h60.7v4.562h-60.7zM1185.1 1148.90h39.9v4.562h-39.9zM1177.0 1144.34h48.0v4.562h-48.0zM1201.4 1139.77h23.6v4.562h-23.6zM1157.0 1135.21h67.9v4.562h-67.9zM1200.5 1130.64h24.5v4.562h-24.5zM1181.5 1126.08h43.5v4.562h-43.5zM1161.6 1121.52h63.4v4.562h-63.4zM1151.6 1116.95h73.4v4.562h-73.4zM1177.9 1089.57h47.1v4.562h-47.1zM1196.9 1085.01h28.1v4.562h-28.1zM1213.2 1075.88h11.8v4.562h-11.8zM1222.3 1062.19h2.7v4.562h-2.7zM1189.7 980.05h35.3v4.562h-35.3zM1152.5 975.49h72.5v4.562h-72.5zM1132.6 970.92h92.4v4.562h-92.4zM1209.6 966.36h15.4v4.562h-15.4zM1222.3 957.23h2.7v4.562h-2.7zM1219.6 948.11h5.4v4.562h-5.4zM1208.7 911.60h16.3v4.562h-16.3zM1211.4 788.38h13.6v4.562h-13.6zM1167.0 783.82h58.0v4.562h-58.0zM1100.9 779.26h124.1v4.562h-124.1zM1148.0 774.69h77.0v4.562h-77.0zM1207.8 770.13h17.2v4.562h-17.2zM1134.4 765.57h90.6v4.562h-90.6zM1145.3 761.00h79.7v4.562h-79.7zM1202.3 756.44h22.6v4.562h-22.6zM1198.7 751.87h26.3v4.562h-26.3zM1177.9 747.31h47.1v4.562h-47.1zM1163.4 742.75h61.6v4.562h-61.6zM1132.6 738.18h92.4v4.562h-92.4zM1136.2 733.62h88.8v4.562h-88.8zM1091.8 729.06h133.2v4.562h-133.2zM1042.0 724.49h183.0v4.562h-183.0zM1020.5 719.93h204.5v4.562h-204.5zM1050.1 715.37h174.9v4.562h-174.9zM1138.0 710.80h87.0v4.562h-87.0zM1176.1 706.24h48.9v4.562h-48.9zM1125.3 701.68h99.7v4.562h-99.7zM1186.0 697.11h39.0v4.562h-39.0zM1132.6 683.42h92.4v4.562h-92.4zM1084.6 678.86h140.4v4.562h-140.4zM1085.5 674.30h139.5v4.562h-139.5zM1085.5 669.73h139.5v4.562h-139.5zM1108.1 665.17h116.9v4.562h-116.9zM1134.4 660.60h90.6v4.562h-90.6zM1149.8 656.04h75.2v4.562h-75.2zM1169.7 651.48h55.3v4.562h-55.3zM1149.8 646.91h75.2v4.562h-75.2zM1188.8 642.35h36.2v4.562h-36.2zM1162.5 637.79h62.5v4.562h-62.5zM1148.0 633.22h77.0v4.562h-77.0zM1142.6 628.66h82.4v4.562h-82.4zM1170.6 624.10h54.4v4.562h-54.4zM1177.0 619.53h48.0v4.562h-48.0zM1186.9 614.97h38.1v4.562h-38.1zM1197.8 610.41h27.2v4.562h-27.2zM1180.6 605.84h44.4v4.562h-44.4zM1174.3 601.28h50.7v4.562h-50.7zM1083.7 596.72h141.3v4.562h-141.3zM1093.6 592.15h131.4v4.562h-131.4zM1080.9 587.59h144.1v4.562h-144.1zM1067.4 583.03h157.6v4.562h-157.6zM1060.1 578.46h164.9v4.562h-164.9zM1159.8 573.90h65.2v4.562h-65.2zM1167.0 569.33h58.0v4.562h-58.0zM1202.3 564.77h22.6v4.562h-22.6zM1186.0 560.21h39.0v4.562h-39.0zM1179.7 555.64h45.3v4.562h-45.3zM1159.8 551.08h65.2v4.562h-65.2zM1206.0 546.52h19.0v4.562h-19.0zM1160.7 541.95h64.3v4.562h-64.3zM1127.2 537.39h97.8v4.562h-97.8zM1118.1 532.83h106.9v4.562h-106.9zM1173.4 528.26h51.6v4.562h-51.6zM1172.5 523.70h52.5v4.562h-52.5zM1148.0 519.14h77.0v4.562h-77.0zM1156.1 514.57h68.9v4.562h-68.9zM1156.1 510.01h68.9v4.562h-68.9zM1134.4 505.45h90.6v4.562h-90.6zM1115.4 500.88h109.6v4.562h-109.6zM1158.9 496.32h66.1v4.562h-66.1zM1145.3 491.75h79.7v4.562h-79.7zM1146.2 482.63h78.8v4.562h-78.8zM1080.9 478.06h144.1v4.562h-144.1zM1068.3 473.50h156.7v4.562h-156.7zM1145.3 468.94h79.7v4.562h-79.7zM1190.6 464.37h34.4v4.562h-34.4zM1186.9 459.81h38.1v4.562h-38.1zM1186.0 455.25h39.0v4.562h-39.0zM1187.9 450.68h37.1v4.562h-37.1zM1202.3 446.12h22.6v4.562h-22.6zM1209.6 441.56h15.4v4.562h-15.4zM1163.4 436.99h61.6v4.562h-61.6zM1164.3 432.43h60.7v4.562h-60.7zM1194.2 427.87h30.8v4.562h-30.8zM1217.8 423.30h7.2v4.562h-7.2zM1176.1 400.48h48.9v4.562h-48.9zM1120.8 395.92h104.2v4.562h-104.2zM1160.7 391.36h64.3v4.562h-64.3zM1198.7 386.79h26.3v4.562h-26.3zM1186.0 382.23h39.0v4.562h-39.0zM1197.8 377.67h27.2v4.562h-27.2zM1164.3 373.10h60.7v4.562h-60.7zM1160.7 368.54h64.3v4.562h-64.3zM1179.7 363.98h45.3v4.562h-45.3zM1197.8 359.41h27.2v4.562h-27.2zM1164.3 354.85h60.7v4.562h-60.7zM1204.2 350.29h20.8v4.562h-20.8zM1206.0 345.72h19.0v4.562h-19.0zM1173.4 341.16h51.6v4.562h-51.6zM1192.4 336.60h32.6v4.562h-32.6zM1206.0 332.03h19.0v4.562h-19.0zM1206.9 327.47h18.1v4.562h-18.1zM1214.1 322.91h10.9v4.562h-10.9zM1185.1 313.78h39.9v4.562h-39.9zM1183.3 309.21h41.7v4.562h-41.7zM1220.5 304.65h4.5v4.562h-4.5zM1196.0 300.09h29.0v4.562h-29.0zM1209.6 295.52h15.4v4.562h-15.4zM1221.4 290.96h3.6v4.562h-3.6zM1195.1 286.40h29.9v4.562h-29.9zM1203.3 281.83h21.7v4.562h-21.7zM1164.3 277.27h60.7v4.562h-60.7zM1176.1 272.71h48.9v4.562h-48.9zM1221.4 268.14h3.6v4.562h-3.6zM1212.3 240.76h12.7v4.562h-12.7zM1187.9 236.20h37.1v4.562h-37.1zM1154.3 231.64h70.7v4.562h-70.7zM1169.7 227.07h55.3v4.562h-55.3zM1218.7 222.51h6.3v4.562h-6.3zM1183.3 217.94h41.7v4.562h-41.7zM1186.0 213.38h39.0v4.562h-39.0zM1184.2 208.82h40.8v4.562h-40.8zM1184.2 204.25h40.8v4.562h-40.8zM1198.7 199.69h26.3v4.562h-26.3zM1177.0 195.13h48.0v4.562h-48.0zM1199.6 190.56h25.4v4.562h-25.4zM1206.0 181.44h19.0v4.562h-19.0zM1190.6 176.87h34.4v4.562h-34.4zM1206.9 167.75h18.1v4.562h-18.1zM1221.4 163.18h3.6v4.562h-3.6zM1196.0 158.62h29.0v4.562h-29.0zM1091.8 154.06h133.2v4.562h-133.2zM1086.4 149.49h138.6v4.562h-138.6zM1071.0 144.93h154.0v4.562h-154.0zM1097.3 140.37h127.7v4.562h-127.7zM1152.5 135.80h72.5v4.562h-72.5zM1150.7 131.24h74.3v4.562h-74.3zM1186.0 126.67h39.0v4.562h-39.0zM1188.8 94.73h36.2v4.562h-36.2zM1160.7 90.17h64.3v4.562h-64.3z"/>
<path fill="#e00000" d="M1225.0 1235.61h14.0v4.562h-14.0zM1225.0 1208.22h20.8v4.562h-20.8zM1225.0 1107.83h39.9v4.562h-39.9zM1225.0 1103.26h68.9v4.562h-68.9zM1225.0 1098.70h60.7v4.562h-60.7zM1225.0 1094.14h104.6v4.562h-104.6zM1225.0 1080.45h1.8v4.562h-1.8zM1225.0 1071.32h62.5v4.562h-62.5zM1225.0 1066.76h48.9v4.562h-48.9zM1225.0 1057.63h50.7v4.562h-50.7zM1225.0 1053.07h50.7v4.562h-50.7zM1225.0 1048.50h50.7v4.562h-50.7zM1225.0 1043.94h12.7v4.562h-12.7zM1225.0 1039.38h12.7v4.562h-12.7zM1225.0 1034.81h33.5v4.562h-33.5zM1225.0 1030.25h47.1v4.562h-47.1zM1225.0 1025.68h35.3v4.562h-35.3zM1225.0 1021.12h55.3v4.562h-55.3zM1225.0 1016.56h38.1v4.562h-38.1zM1225.0 1011.99h42.6v4.562h-42.6zM1225.0 1007.43h125.9v4.562h-125.9zM1225.0 1002.87h98.8v4.562h-98.8zM1225.0 998.30h145.9v4.562h-145.9zM1225.0 993.74h56.2v4.562h-56.2zM1225.0 989.18h18.1v4.562h-18.1zM1225.0 984.61h136.8v4.562h-136.8zM1225.0 961.80h23.6v4.562h-23.6zM1225.0 952.67h22.6v4.562h-22.6zM1225.0 943.54h85.2v4.562h-85.2zM1225.0 938.98h20.8v4.562h-20.8zM1225.0 934.41h52.5v4.562h-52.5zM1225.0 929.85h35.3v4.562h-35.3zM1225.0 925.29h77.9v4.562h-77.9zM1225.0 920.72h11.8v4.562h-11.8zM1225.0 916.16h63.4v4.562h-63.4zM1225.0 907.03h17.2v4.562h-17.2zM1225.0 902.47h2.7v4.562h-2.7zM1225.0 897.91h42.6v4.562h-42.6zM1225.0 893.34h42.6v4.562h-42.6zM1225.0 888.78h23.6v4.562h-23.6zM1225.0 884.22h22.6v4.562h-22.6zM1225.0 879.65h54.4v4.562h-54.4zM1225.0 875.09h146.8v4.562h-146.8zM1225.0 870.53h155.8v4.562h-155.8zM1225.0 865.96h56.2v4.562h-56.2zM1225.0 861.40h57.1v4.562h-57.1zM1225.0 856.84h76.1v4.562h-76.1zM1225.0 852.27h67.0v4.562h-67.0zM1225.0 847.71h60.7v4.562h-60.7zM1225.0 843.14h27.2v4.562h-27.2zM1225.0 838.58h114.2v4.562h-114.2zM1225.0 834.02h71.6v4.562h-71.6zM1225.0 829.45h22.6v4.562h-22.6zM1225.0 824.89h170.3v4.562h-170.3zM1225.0 820.33h115.1v4.562h-115.1zM1225.0 815.76h73.4v4.562h-73.4zM1225.0 811.20h23.6v4.562h-23.6zM1225.0 806.64h10.0v4.562h-10.0zM1225.0 802.07h29.0v4.562h-29.0zM1225.0 797.51h10.0v4.562h-10.0zM1225.0 792.95h2.7v4.562h-2.7zM1225.0 692.55h8.2v4.562h-8.2zM1225.0 687.99h5.4v4.562h-5.4zM1225.0 487.19h18.1v4.562h-18.1zM1225.0 418.74h19.9v4.562h-19.9zM1225.0 414.18h2.7v4.562h-2.7zM1225.0 318.34h1.8v4.562h-1.8zM1225.0 263.58h10.0v4.562h-10.0zM1225.0 259.02h11.8v4.562h-11.8zM1225.0 245.33h11.8v4.562h-11.8zM1225.0 186.00h38.1v4.562h-38.1zM1225.0 172.31h35.3v4.562h-35.3zM1225.0 122.11h27.2v4.562h-27.2zM1225.0 117.55h28.1v4.562h-28.1zM1225.0 112.98h64.3v4.562h-64.3zM1225.0 108.42h62.5v4.562h-62.5zM1225.0 103.86h65.2v4.562h-65.2zM1225.0 99.29h17.2v4.562h-17.2z"/>
<path d="M1019.0,1242 L1019.0,86.5 L1407.5,86.5" fill="none" stroke="#333333" stroke-width="2.8"/>
<path d="M1044.5,86.5 v12 M1406.5,86.5 v12" stroke="#333333" stroke-width="2.6"/>
<path d="M1019.0,1242.0 h13.5" stroke="#333333" stroke-width="2.6"/>
<path d="M1019.0,1013.9 h13.5" stroke="#333333" stroke-width="2.6"/>
<path d="M1019.0,785.7 h13.5" stroke="#333333" stroke-width="2.6"/>
<path d="M1019.0,557.6 h13.5" stroke="#333333" stroke-width="2.6"/>
<path d="M1019.0,329.4 h13.5" stroke="#333333" stroke-width="2.6"/>
<path d="M1019.0,101.2 h13.5" stroke="#333333" stroke-width="2.6"/>
</g>


<g stroke="#a8b0aa" stroke-width="1.6" opacity="0.55"><path d="M739,187.4 H823"/><path d="M436.8,785.8 H823"/><path d="M291,1113.6 H823"/></g>
<g stroke="#000" stroke-width="4" stroke-linecap="round" stroke-dasharray="11.2 15.1" fill="none">
<path d="M739,187.4 H1013"/>
<path d="M436.8,785.8 H1011"/>
<path d="M291,1113.6 H1011"/>
</g>

<text x="1007.8" y="1252.4" font-family="Liberation Sans, sans-serif" font-size="29" text-anchor="end" fill="#111">0</text>
<text x="1007.8" y="1024.2" font-family="Liberation Sans, sans-serif" font-size="29" text-anchor="end" fill="#111">50</text>
<text x="1007.8" y="796.1" font-family="Liberation Sans, sans-serif" font-size="29" text-anchor="end" fill="#111">100</text>
<text x="1007.8" y="568.0" font-family="Liberation Sans, sans-serif" font-size="29" text-anchor="end" fill="#111">150</text>
<text x="1007.8" y="339.8" font-family="Liberation Sans, sans-serif" font-size="29" text-anchor="end" fill="#111">200</text>
<text x="1007.8" y="111.7" font-family="Liberation Sans, sans-serif" font-size="29" text-anchor="end" fill="#111">250</text>
<text x="1043.1" y="70.3" font-family="Liberation Sans, sans-serif" font-size="29" text-anchor="middle" fill="#111">−2</text>
<text x="1225.5" y="70.3" font-family="Liberation Sans, sans-serif" font-size="29" text-anchor="middle" fill="#111">0</text>
<text x="1406.4" y="70.3" font-family="Liberation Sans, sans-serif" font-size="29" text-anchor="middle" fill="#111">2</text>
<text x="1133" y="33.6" font-family="Liberation Sans, sans-serif" font-size="29" fill="#111" stroke="#111" stroke-width="0.6" textLength="50.5" lengthAdjust="spacingAndGlyphs">LRR</text>
<text x="1211.3" y="31.2" font-family="Liberation Sans, sans-serif" font-size="28" fill="#111" stroke="#111" stroke-width="0.4" textLength="8.8" lengthAdjust="spacingAndGlyphs">(</text>
<text x="1222.8" y="32.4" font-family="Liberation Sans, sans-serif" font-size="27" fill="#111" stroke="#111" stroke-width="1.0" textLength="16.6" lengthAdjust="spacingAndGlyphs">m</text>
<path d="M1242.6,35 L1255.6,11" stroke="#111" stroke-width="2.6"/>
<text x="1258.3" y="32.4" font-family="Liberation Sans, sans-serif" font-size="27" fill="#111" stroke="#111" stroke-width="0.5" textLength="15.4" lengthAdjust="spacingAndGlyphs">y</text>
<text x="1276.8" y="31.2" font-family="Liberation Sans, sans-serif" font-size="28" fill="#111" stroke="#111" stroke-width="0.4" textLength="8.8" lengthAdjust="spacingAndGlyphs">)</text>
<text x="1028.5" y="150.6" font-family="Liberation Sans, sans-serif" font-size="36" fill="#111" textLength="46" lengthAdjust="spacingAndGlyphs">D2</text>
<text x="1028.5" y="493.3" font-family="Liberation Sans, sans-serif" font-size="36" fill="#111" textLength="46" lengthAdjust="spacingAndGlyphs">C2</text>
<text x="1028.5" y="962.2" font-family="Liberation Sans, sans-serif" font-size="36" fill="#111" textLength="46" lengthAdjust="spacingAndGlyphs">B2</text>
<text x="1028.5" y="1185.3" font-family="Liberation Sans, sans-serif" font-size="36" fill="#111" textLength="46" lengthAdjust="spacingAndGlyphs">A2</text>
<text transform="translate(923.6,560.2) rotate(90)" x="0" y="0" font-family="Liberation Sans, sans-serif" font-size="34.5" fill="#111" textLength="202" lengthAdjust="spacingAndGlyphs">Transects No.</text>
<text x="119.5" y="69.1" font-family="Liberation Serif, serif" font-weight="bold" font-size="31" text-anchor="middle" fill="#000" textLength="145" lengthAdjust="spacingAndGlyphs">119°36'0"E</text>
<text x="117.7" y="1279.8" font-family="Liberation Serif, serif" font-weight="bold" font-size="31" text-anchor="middle" fill="#000" textLength="145" lengthAdjust="spacingAndGlyphs">119°36'0"E</text>
<text x="370.4" y="69.1" font-family="Liberation Serif, serif" font-weight="bold" font-size="31" text-anchor="middle" fill="#000" textLength="145" lengthAdjust="spacingAndGlyphs">119°37'0"E</text>
<text x="368.59999999999997" y="1279.8" font-family="Liberation Serif, serif" font-weight="bold" font-size="31" text-anchor="middle" fill="#000" textLength="145" lengthAdjust="spacingAndGlyphs">119°37'0"E</text>
<text x="619.2" y="69.1" font-family="Liberation Serif, serif" font-weight="bold" font-size="31" text-anchor="middle" fill="#000" textLength="145" lengthAdjust="spacingAndGlyphs">119°38'0"E</text>
<text x="617.4000000000001" y="1279.8" font-family="Liberation Serif, serif" font-weight="bold" font-size="31" text-anchor="middle" fill="#000" textLength="145" lengthAdjust="spacingAndGlyphs">119°38'0"E</text>
<text transform="translate(34.8,225.9) rotate(-90)" x="0" y="0" font-family="Liberation Serif, serif" font-weight="bold" font-size="31" text-anchor="middle" fill="#000" textLength="129" lengthAdjust="spacingAndGlyphs">35°33'0"N</text>
<text transform="translate(34.8,523.9) rotate(-90)" x="0" y="0" font-family="Liberation Serif, serif" font-weight="bold" font-size="31" text-anchor="middle" fill="#000" textLength="129" lengthAdjust="spacingAndGlyphs">35°32'0"N</text>
<text transform="translate(34.8,822.0) rotate(-90)" x="0" y="0" font-family="Liberation Serif, serif" font-weight="bold" font-size="31" text-anchor="middle" fill="#000" textLength="129" lengthAdjust="spacingAndGlyphs">35°31'0"N</text>
<text transform="translate(34.8,1120.3) rotate(-90)" x="0" y="0" font-family="Liberation Serif, serif" font-weight="bold" font-size="31" text-anchor="middle" fill="#000" textLength="129" lengthAdjust="spacingAndGlyphs">35°30'0"N</text>
<text transform="translate(861.4,252.6) rotate(-90)" x="0" y="0" font-family="Liberation Serif, serif" font-weight="bold" font-size="31" text-anchor="middle" fill="#000" textLength="128" lengthAdjust="spacingAndGlyphs">35°33'0"N</text>
<text transform="translate(861.4,550.7) rotate(-90)" x="0" y="0" font-family="Liberation Serif, serif" font-weight="bold" font-size="31" text-anchor="middle" fill="#000" textLength="128" lengthAdjust="spacingAndGlyphs">35°32'0"N</text>
<text transform="translate(861.4,848.8) rotate(-90)" x="0" y="0" font-family="Liberation Serif, serif" font-weight="bold" font-size="31" text-anchor="middle" fill="#000" textLength="128" lengthAdjust="spacingAndGlyphs">35°31'0"N</text>
<text transform="translate(861.4,1146.6) rotate(-90)" x="0" y="0" font-family="Liberation Serif, serif" font-weight="bold" font-size="31" text-anchor="middle" fill="#000" textLength="128" lengthAdjust="spacingAndGlyphs">35°30'0"N</text>
</svg></body></html>
